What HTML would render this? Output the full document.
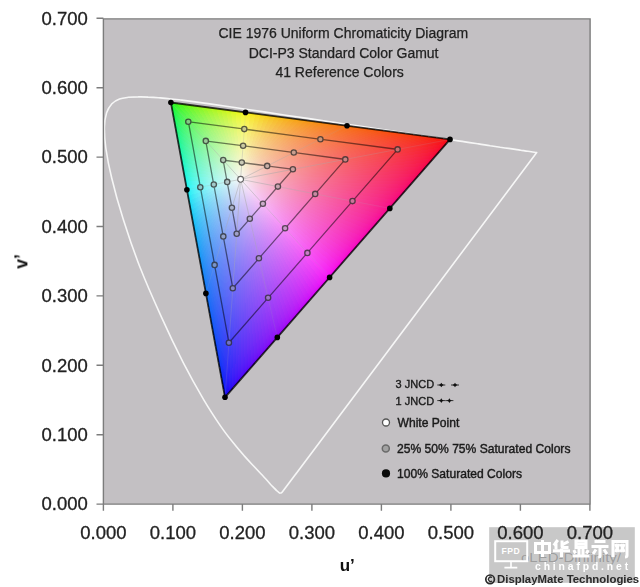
<!DOCTYPE html>
<html><head><meta charset="utf-8"><style>
html,body{margin:0;padding:0;background:#fff;width:640px;height:587px;overflow:hidden}
svg{display:block;filter:blur(.35px);font-family:"Liberation Sans",sans-serif}
</style></head><body>
<svg width="640" height="587" viewBox="0 0 640 587">
<defs><clipPath id="pc"><rect x="103.4" y="18.9" width="486.7" height="485.2"/></clipPath>
<linearGradient id="w0" gradientUnits="userSpaceOnUse" x1="240.6" y1="179.3" x2="249.4" y2="112.9"><stop offset="0" stop-color="#f7f7f7"/><stop offset=".07" stop-color="#e9f7e8"/><stop offset=".16" stop-color="#d7f7d6"/><stop offset=".27" stop-color="#c2f7c0"/><stop offset=".4" stop-color="#aaf7a8"/><stop offset=".54" stop-color="#91f78d"/><stop offset=".67" stop-color="#79f773"/><stop offset=".78" stop-color="#63f75c"/><stop offset=".87" stop-color="#4ff745"/><stop offset=".935" stop-color="#3df730"/><stop offset=".975" stop-color="#31f71e"/><stop offset="1" stop-color="#27f700"/></linearGradient>
<linearGradient id="w1" gradientUnits="userSpaceOnUse" x1="240.6" y1="179.3" x2="249.4" y2="112.9"><stop offset="0" stop-color="#f7f7f7"/><stop offset=".07" stop-color="#eaf7e9"/><stop offset=".16" stop-color="#d9f7d6"/><stop offset=".27" stop-color="#c6f7c1"/><stop offset=".4" stop-color="#b0f7a8"/><stop offset=".54" stop-color="#99f78e"/><stop offset=".67" stop-color="#83f774"/><stop offset=".78" stop-color="#70f75c"/><stop offset=".87" stop-color="#5ff746"/><stop offset=".935" stop-color="#53f731"/><stop offset=".975" stop-color="#4af71e"/><stop offset="1" stop-color="#44f700"/></linearGradient>
<linearGradient id="w2" gradientUnits="userSpaceOnUse" x1="240.6" y1="179.3" x2="249.4" y2="112.9"><stop offset="0" stop-color="#f7f7f7"/><stop offset=".07" stop-color="#ebf7e9"/><stop offset=".16" stop-color="#dbf7d7"/><stop offset=".27" stop-color="#c9f7c2"/><stop offset=".4" stop-color="#b5f7a9"/><stop offset=".54" stop-color="#a0f78f"/><stop offset=".67" stop-color="#8df775"/><stop offset=".78" stop-color="#7cf75d"/><stop offset=".87" stop-color="#6ef746"/><stop offset=".935" stop-color="#64f731"/><stop offset=".975" stop-color="#5df71e"/><stop offset="1" stop-color="#59f700"/></linearGradient>
<linearGradient id="w3" gradientUnits="userSpaceOnUse" x1="240.6" y1="179.3" x2="249.4" y2="112.9"><stop offset="0" stop-color="#f7f7f7"/><stop offset=".07" stop-color="#ecf7e9"/><stop offset=".16" stop-color="#def7d7"/><stop offset=".27" stop-color="#cdf7c2"/><stop offset=".4" stop-color="#bbf7aa"/><stop offset=".54" stop-color="#a8f790"/><stop offset=".67" stop-color="#96f776"/><stop offset=".78" stop-color="#88f75e"/><stop offset=".87" stop-color="#7cf747"/><stop offset=".935" stop-color="#73f731"/><stop offset=".975" stop-color="#6df71e"/><stop offset="1" stop-color="#6af700"/></linearGradient>
<linearGradient id="w4" gradientUnits="userSpaceOnUse" x1="240.6" y1="179.3" x2="249.4" y2="112.9"><stop offset="0" stop-color="#f7f7f7"/><stop offset=".07" stop-color="#edf7e9"/><stop offset=".16" stop-color="#e0f7d8"/><stop offset=".27" stop-color="#d1f7c3"/><stop offset=".4" stop-color="#c0f7ab"/><stop offset=".54" stop-color="#aff791"/><stop offset=".67" stop-color="#a0f777"/><stop offset=".78" stop-color="#93f75f"/><stop offset=".87" stop-color="#88f747"/><stop offset=".935" stop-color="#81f732"/><stop offset=".975" stop-color="#7cf71f"/><stop offset="1" stop-color="#79f700"/></linearGradient>
<linearGradient id="w5" gradientUnits="userSpaceOnUse" x1="240.6" y1="179.3" x2="249.4" y2="112.9"><stop offset="0" stop-color="#f7f7f7"/><stop offset=".07" stop-color="#eef7e9"/><stop offset=".16" stop-color="#e2f7d8"/><stop offset=".27" stop-color="#d5f7c4"/><stop offset=".4" stop-color="#c6f7ac"/><stop offset=".54" stop-color="#b6f791"/><stop offset=".67" stop-color="#a8f778"/><stop offset=".78" stop-color="#9df760"/><stop offset=".87" stop-color="#94f748"/><stop offset=".935" stop-color="#8ef732"/><stop offset=".975" stop-color="#8af71f"/><stop offset="1" stop-color="#87f700"/></linearGradient>
<linearGradient id="w6" gradientUnits="userSpaceOnUse" x1="240.6" y1="179.3" x2="249.4" y2="112.9"><stop offset="0" stop-color="#f7f7f7"/><stop offset=".07" stop-color="#eff7ea"/><stop offset=".16" stop-color="#e4f7d9"/><stop offset=".27" stop-color="#d8f7c5"/><stop offset=".4" stop-color="#cbf7ad"/><stop offset=".54" stop-color="#bdf792"/><stop offset=".67" stop-color="#b1f779"/><stop offset=".78" stop-color="#a7f760"/><stop offset=".87" stop-color="#a0f749"/><stop offset=".935" stop-color="#9af733"/><stop offset=".975" stop-color="#97f71f"/><stop offset="1" stop-color="#95f700"/></linearGradient>
<linearGradient id="w7" gradientUnits="userSpaceOnUse" x1="240.6" y1="179.3" x2="249.4" y2="112.9"><stop offset="0" stop-color="#f7f7f7"/><stop offset=".07" stop-color="#f0f7ea"/><stop offset=".16" stop-color="#e7f7d9"/><stop offset=".27" stop-color="#dcf7c5"/><stop offset=".4" stop-color="#d0f7ae"/><stop offset=".54" stop-color="#c4f793"/><stop offset=".67" stop-color="#baf77a"/><stop offset=".78" stop-color="#b1f761"/><stop offset=".87" stop-color="#abf749"/><stop offset=".935" stop-color="#a6f733"/><stop offset=".975" stop-color="#a3f720"/><stop offset="1" stop-color="#a1f700"/></linearGradient>
<linearGradient id="w8" gradientUnits="userSpaceOnUse" x1="240.6" y1="179.3" x2="249.4" y2="112.9"><stop offset="0" stop-color="#f7f7f7"/><stop offset=".07" stop-color="#f1f7ea"/><stop offset=".16" stop-color="#e9f7da"/><stop offset=".27" stop-color="#e0f7c6"/><stop offset=".4" stop-color="#d6f7ae"/><stop offset=".54" stop-color="#cbf794"/><stop offset=".67" stop-color="#c2f77b"/><stop offset=".78" stop-color="#bbf762"/><stop offset=".87" stop-color="#b5f74a"/><stop offset=".935" stop-color="#b1f734"/><stop offset=".975" stop-color="#aff720"/><stop offset="1" stop-color="#adf700"/></linearGradient>
<linearGradient id="w9" gradientUnits="userSpaceOnUse" x1="240.6" y1="179.3" x2="249.4" y2="112.9"><stop offset="0" stop-color="#f7f7f7"/><stop offset=".07" stop-color="#f2f7eb"/><stop offset=".16" stop-color="#ebf7da"/><stop offset=".27" stop-color="#e3f7c7"/><stop offset=".4" stop-color="#dbf7af"/><stop offset=".54" stop-color="#d2f795"/><stop offset=".67" stop-color="#cbf77c"/><stop offset=".78" stop-color="#c5f763"/><stop offset=".87" stop-color="#c0f74b"/><stop offset=".935" stop-color="#bdf734"/><stop offset=".975" stop-color="#bbf720"/><stop offset="1" stop-color="#b9f700"/></linearGradient>
<linearGradient id="w10" gradientUnits="userSpaceOnUse" x1="240.6" y1="179.3" x2="249.4" y2="112.9"><stop offset="0" stop-color="#f7f7f7"/><stop offset=".07" stop-color="#f3f7eb"/><stop offset=".16" stop-color="#edf7db"/><stop offset=".27" stop-color="#e7f7c7"/><stop offset=".4" stop-color="#e0f7b0"/><stop offset=".54" stop-color="#d9f796"/><stop offset=".67" stop-color="#d3f77d"/><stop offset=".78" stop-color="#cef764"/><stop offset=".87" stop-color="#caf74c"/><stop offset=".935" stop-color="#c8f735"/><stop offset=".975" stop-color="#c6f721"/><stop offset="1" stop-color="#c5f700"/></linearGradient>
<linearGradient id="w11" gradientUnits="userSpaceOnUse" x1="240.6" y1="179.3" x2="249.4" y2="112.9"><stop offset="0" stop-color="#f7f7f7"/><stop offset=".07" stop-color="#f4f7eb"/><stop offset=".16" stop-color="#f0f7db"/><stop offset=".27" stop-color="#ebf7c8"/><stop offset=".4" stop-color="#e5f7b1"/><stop offset=".54" stop-color="#e0f797"/><stop offset=".67" stop-color="#dbf77e"/><stop offset=".78" stop-color="#d7f765"/><stop offset=".87" stop-color="#d4f74c"/><stop offset=".935" stop-color="#d2f735"/><stop offset=".975" stop-color="#d1f721"/><stop offset="1" stop-color="#d0f700"/></linearGradient>
<linearGradient id="w12" gradientUnits="userSpaceOnUse" x1="240.6" y1="179.3" x2="249.4" y2="112.9"><stop offset="0" stop-color="#f7f7f7"/><stop offset=".07" stop-color="#f5f7eb"/><stop offset=".16" stop-color="#f2f7dc"/><stop offset=".27" stop-color="#eef7c9"/><stop offset=".4" stop-color="#ebf7b2"/><stop offset=".54" stop-color="#e7f799"/><stop offset=".67" stop-color="#e3f77f"/><stop offset=".78" stop-color="#e1f766"/><stop offset=".87" stop-color="#dff74d"/><stop offset=".935" stop-color="#ddf736"/><stop offset=".975" stop-color="#dcf721"/><stop offset="1" stop-color="#dcf700"/></linearGradient>
<linearGradient id="w13" gradientUnits="userSpaceOnUse" x1="240.6" y1="179.3" x2="249.4" y2="112.9"><stop offset="0" stop-color="#f7f7f7"/><stop offset=".07" stop-color="#f6f7ec"/><stop offset=".16" stop-color="#f4f7dc"/><stop offset=".27" stop-color="#f2f7ca"/><stop offset=".4" stop-color="#f0f7b3"/><stop offset=".54" stop-color="#eef79a"/><stop offset=".67" stop-color="#ecf780"/><stop offset=".78" stop-color="#eaf767"/><stop offset=".87" stop-color="#e9f74e"/><stop offset=".935" stop-color="#e8f737"/><stop offset=".975" stop-color="#e7f722"/><stop offset="1" stop-color="#e7f700"/></linearGradient>
<linearGradient id="w14" gradientUnits="userSpaceOnUse" x1="240.6" y1="179.3" x2="249.4" y2="112.9"><stop offset="0" stop-color="#f7f7f7"/><stop offset=".07" stop-color="#f7f7ec"/><stop offset=".16" stop-color="#f6f7dd"/><stop offset=".27" stop-color="#f6f7cb"/><stop offset=".4" stop-color="#f5f7b4"/><stop offset=".54" stop-color="#f4f79b"/><stop offset=".67" stop-color="#f4f781"/><stop offset=".78" stop-color="#f3f768"/><stop offset=".87" stop-color="#f3f74f"/><stop offset=".935" stop-color="#f3f737"/><stop offset=".975" stop-color="#f2f722"/><stop offset="1" stop-color="#f2f700"/></linearGradient>
<linearGradient id="w15" gradientUnits="userSpaceOnUse" x1="240.6" y1="179.3" x2="249.4" y2="112.9"><stop offset="0" stop-color="#f7f7f7"/><stop offset=".07" stop-color="#f7f7eb"/><stop offset=".16" stop-color="#f7f6dc"/><stop offset=".27" stop-color="#f7f5ca"/><stop offset=".4" stop-color="#f7f4b3"/><stop offset=".54" stop-color="#f7f49a"/><stop offset=".67" stop-color="#f7f380"/><stop offset=".78" stop-color="#f7f267"/><stop offset=".87" stop-color="#f7f24e"/><stop offset=".935" stop-color="#f7f137"/><stop offset=".975" stop-color="#f7f122"/><stop offset="1" stop-color="#f7f100"/></linearGradient>
<linearGradient id="w16" gradientUnits="userSpaceOnUse" x1="240.6" y1="179.3" x2="249.4" y2="112.9"><stop offset="0" stop-color="#f7f7f7"/><stop offset=".07" stop-color="#f7f6eb"/><stop offset=".16" stop-color="#f7f4db"/><stop offset=".27" stop-color="#f7f2c8"/><stop offset=".4" stop-color="#f7efb0"/><stop offset=".54" stop-color="#f7ed97"/><stop offset=".67" stop-color="#f7eb7d"/><stop offset=".78" stop-color="#f7ea64"/><stop offset=".87" stop-color="#f7e84c"/><stop offset=".935" stop-color="#f7e835"/><stop offset=".975" stop-color="#f7e721"/><stop offset="1" stop-color="#f7e700"/></linearGradient>
<linearGradient id="w17" gradientUnits="userSpaceOnUse" x1="240.6" y1="179.3" x2="249.4" y2="112.9"><stop offset="0" stop-color="#f7f7f7"/><stop offset=".07" stop-color="#f7f5ea"/><stop offset=".16" stop-color="#f7f2d9"/><stop offset=".27" stop-color="#f7eec5"/><stop offset=".4" stop-color="#f7ebae"/><stop offset=".54" stop-color="#f7e794"/><stop offset=".67" stop-color="#f7e47a"/><stop offset=".78" stop-color="#f7e261"/><stop offset=".87" stop-color="#f7e04a"/><stop offset=".935" stop-color="#f7de34"/><stop offset=".975" stop-color="#f7de20"/><stop offset="1" stop-color="#f7dd00"/></linearGradient>
<linearGradient id="w18" gradientUnits="userSpaceOnUse" x1="240.6" y1="179.3" x2="249.4" y2="112.9"><stop offset="0" stop-color="#f7f7f7"/><stop offset=".07" stop-color="#f7f4e9"/><stop offset=".16" stop-color="#f7f0d8"/><stop offset=".27" stop-color="#f7ebc3"/><stop offset=".4" stop-color="#f7e6ab"/><stop offset=".54" stop-color="#f7e191"/><stop offset=".67" stop-color="#f7dd77"/><stop offset=".78" stop-color="#f7da5f"/><stop offset=".87" stop-color="#f7d848"/><stop offset=".935" stop-color="#f7d632"/><stop offset=".975" stop-color="#f7d51f"/><stop offset="1" stop-color="#f7d400"/></linearGradient>
<linearGradient id="w19" gradientUnits="userSpaceOnUse" x1="240.6" y1="179.3" x2="249.4" y2="112.9"><stop offset="0" stop-color="#f7f7f7"/><stop offset=".07" stop-color="#f7f3e9"/><stop offset=".16" stop-color="#f7edd7"/><stop offset=".27" stop-color="#f7e8c2"/><stop offset=".4" stop-color="#f7e1a9"/><stop offset=".54" stop-color="#f7db8f"/><stop offset=".67" stop-color="#f7d775"/><stop offset=".78" stop-color="#f7d35d"/><stop offset=".87" stop-color="#f7d046"/><stop offset=".935" stop-color="#f7ce31"/><stop offset=".975" stop-color="#f7cd1e"/><stop offset="1" stop-color="#f7cc00"/></linearGradient>
<linearGradient id="w20" gradientUnits="userSpaceOnUse" x1="240.6" y1="179.3" x2="249.4" y2="112.9"><stop offset="0" stop-color="#f7f7f7"/><stop offset=".07" stop-color="#f7f2e8"/><stop offset=".16" stop-color="#f7ebd5"/><stop offset=".27" stop-color="#f7e4c0"/><stop offset=".4" stop-color="#f7dda7"/><stop offset=".54" stop-color="#f7d68c"/><stop offset=".67" stop-color="#f7d073"/><stop offset=".78" stop-color="#f7cc5b"/><stop offset=".87" stop-color="#f7c945"/><stop offset=".935" stop-color="#f7c630"/><stop offset=".975" stop-color="#f7c51d"/><stop offset="1" stop-color="#f7c400"/></linearGradient>
<linearGradient id="w21" gradientUnits="userSpaceOnUse" x1="240.6" y1="179.3" x2="249.4" y2="112.9"><stop offset="0" stop-color="#f7f7f7"/><stop offset=".07" stop-color="#f7f1e7"/><stop offset=".16" stop-color="#f7e9d4"/><stop offset=".27" stop-color="#f7e1be"/><stop offset=".4" stop-color="#f7d9a5"/><stop offset=".54" stop-color="#f7d18a"/><stop offset=".67" stop-color="#f7ca71"/><stop offset=".78" stop-color="#f7c659"/><stop offset=".87" stop-color="#f7c243"/><stop offset=".935" stop-color="#f7bf2f"/><stop offset=".975" stop-color="#f7be1d"/><stop offset="1" stop-color="#f7bd00"/></linearGradient>
<linearGradient id="w22" gradientUnits="userSpaceOnUse" x1="240.6" y1="179.3" x2="249.4" y2="112.9"><stop offset="0" stop-color="#f7f7f7"/><stop offset=".07" stop-color="#f7f0e7"/><stop offset=".16" stop-color="#f7e7d3"/><stop offset=".27" stop-color="#f7debc"/><stop offset=".4" stop-color="#f7d5a3"/><stop offset=".54" stop-color="#f7cc88"/><stop offset=".67" stop-color="#f7c56f"/><stop offset=".78" stop-color="#f7bf58"/><stop offset=".87" stop-color="#f7bb42"/><stop offset=".935" stop-color="#f7b92e"/><stop offset=".975" stop-color="#f7b71c"/><stop offset="1" stop-color="#f7b600"/></linearGradient>
<linearGradient id="w23" gradientUnits="userSpaceOnUse" x1="240.6" y1="179.3" x2="249.4" y2="112.9"><stop offset="0" stop-color="#f7f7f7"/><stop offset=".07" stop-color="#f7efe6"/><stop offset=".16" stop-color="#f7e5d2"/><stop offset=".27" stop-color="#f7dbba"/><stop offset=".4" stop-color="#f7d1a1"/><stop offset=".54" stop-color="#f7c786"/><stop offset=".67" stop-color="#f7bf6d"/><stop offset=".78" stop-color="#f7ba56"/><stop offset=".87" stop-color="#f7b540"/><stop offset=".935" stop-color="#f7b22d"/><stop offset=".975" stop-color="#f7b11b"/><stop offset="1" stop-color="#f7af00"/></linearGradient>
<linearGradient id="w24" gradientUnits="userSpaceOnUse" x1="240.6" y1="179.3" x2="249.4" y2="112.9"><stop offset="0" stop-color="#f7f7f7"/><stop offset=".07" stop-color="#f7eee5"/><stop offset=".16" stop-color="#f7e3d0"/><stop offset=".27" stop-color="#f7d8b9"/><stop offset=".4" stop-color="#f7cd9f"/><stop offset=".54" stop-color="#f7c384"/><stop offset=".67" stop-color="#f7ba6b"/><stop offset=".78" stop-color="#f7b454"/><stop offset=".87" stop-color="#f7af3f"/><stop offset=".935" stop-color="#f7ac2c"/><stop offset=".975" stop-color="#f7aa1b"/><stop offset="1" stop-color="#f7a900"/></linearGradient>
<linearGradient id="w25" gradientUnits="userSpaceOnUse" x1="240.6" y1="179.3" x2="249.4" y2="112.9"><stop offset="0" stop-color="#f7f7f7"/><stop offset=".07" stop-color="#f7ede5"/><stop offset=".16" stop-color="#f7e2cf"/><stop offset=".27" stop-color="#f7d5b7"/><stop offset=".4" stop-color="#f7c99d"/><stop offset=".54" stop-color="#f7be82"/><stop offset=".67" stop-color="#f7b569"/><stop offset=".78" stop-color="#f7af53"/><stop offset=".87" stop-color="#f7aa3e"/><stop offset=".935" stop-color="#f7a62b"/><stop offset=".975" stop-color="#f7a41a"/><stop offset="1" stop-color="#f7a300"/></linearGradient>
<linearGradient id="w26" gradientUnits="userSpaceOnUse" x1="240.6" y1="179.3" x2="249.4" y2="112.9"><stop offset="0" stop-color="#f7f7f7"/><stop offset=".07" stop-color="#f7ece4"/><stop offset=".16" stop-color="#f7e0ce"/><stop offset=".27" stop-color="#f7d3b5"/><stop offset=".4" stop-color="#f7c69b"/><stop offset=".54" stop-color="#f7ba80"/><stop offset=".67" stop-color="#f7b167"/><stop offset=".78" stop-color="#f7a951"/><stop offset=".87" stop-color="#f7a43d"/><stop offset=".935" stop-color="#f7a12a"/><stop offset=".975" stop-color="#f79f1a"/><stop offset="1" stop-color="#f79d00"/></linearGradient>
<linearGradient id="w27" gradientUnits="userSpaceOnUse" x1="240.6" y1="179.3" x2="249.4" y2="112.9"><stop offset="0" stop-color="#f7f7f7"/><stop offset=".07" stop-color="#f7ebe3"/><stop offset=".16" stop-color="#f7decd"/><stop offset=".27" stop-color="#f7d0b4"/><stop offset=".4" stop-color="#f7c299"/><stop offset=".54" stop-color="#f7b67e"/><stop offset=".67" stop-color="#f7ac66"/><stop offset=".78" stop-color="#f7a550"/><stop offset=".87" stop-color="#f79f3c"/><stop offset=".935" stop-color="#f79b29"/><stop offset=".975" stop-color="#f79919"/><stop offset="1" stop-color="#f79800"/></linearGradient>
<linearGradient id="w28" gradientUnits="userSpaceOnUse" x1="240.6" y1="179.3" x2="249.4" y2="112.9"><stop offset="0" stop-color="#f7f7f7"/><stop offset=".07" stop-color="#f7eae3"/><stop offset=".16" stop-color="#f7dccc"/><stop offset=".27" stop-color="#f7cdb2"/><stop offset=".4" stop-color="#f7bf97"/><stop offset=".54" stop-color="#f7b27d"/><stop offset=".67" stop-color="#f7a764"/><stop offset=".78" stop-color="#f7a04f"/><stop offset=".87" stop-color="#f79a3b"/><stop offset=".935" stop-color="#f79629"/><stop offset=".975" stop-color="#f79419"/><stop offset="1" stop-color="#f79300"/></linearGradient>
<linearGradient id="w29" gradientUnits="userSpaceOnUse" x1="240.6" y1="179.3" x2="249.4" y2="112.9"><stop offset="0" stop-color="#f7f7f7"/><stop offset=".07" stop-color="#f7e9e2"/><stop offset=".16" stop-color="#f7daca"/><stop offset=".27" stop-color="#f7cbb1"/><stop offset=".4" stop-color="#f7bb96"/><stop offset=".54" stop-color="#f7ae7b"/><stop offset=".67" stop-color="#f7a363"/><stop offset=".78" stop-color="#f79b4e"/><stop offset=".87" stop-color="#f7953a"/><stop offset=".935" stop-color="#f79128"/><stop offset=".975" stop-color="#f78f19"/><stop offset="1" stop-color="#f78d00"/></linearGradient>
<linearGradient id="w30" gradientUnits="userSpaceOnUse" x1="240.6" y1="179.3" x2="249.4" y2="112.9"><stop offset="0" stop-color="#f7f7f6"/><stop offset=".07" stop-color="#f7e8e2"/><stop offset=".16" stop-color="#f7d8c9"/><stop offset=".27" stop-color="#f7c8af"/><stop offset=".4" stop-color="#f7b894"/><stop offset=".54" stop-color="#f7aa7a"/><stop offset=".67" stop-color="#f79f62"/><stop offset=".78" stop-color="#f7974c"/><stop offset=".87" stop-color="#f79039"/><stop offset=".935" stop-color="#f78c27"/><stop offset=".975" stop-color="#f78a18"/><stop offset="1" stop-color="#f78800"/></linearGradient>
<linearGradient id="w31" gradientUnits="userSpaceOnUse" x1="240.6" y1="179.3" x2="249.4" y2="112.9"><stop offset="0" stop-color="#f7f7f6"/><stop offset=".07" stop-color="#f7e8e1"/><stop offset=".16" stop-color="#f7d7c8"/><stop offset=".27" stop-color="#f7c6ae"/><stop offset=".4" stop-color="#f7b593"/><stop offset=".54" stop-color="#f7a678"/><stop offset=".67" stop-color="#f79b60"/><stop offset=".78" stop-color="#f7924b"/><stop offset=".87" stop-color="#f78c38"/><stop offset=".935" stop-color="#f78827"/><stop offset=".975" stop-color="#f78518"/><stop offset="1" stop-color="#f78400"/></linearGradient>
<linearGradient id="w32" gradientUnits="userSpaceOnUse" x1="240.6" y1="179.3" x2="249.4" y2="112.9"><stop offset="0" stop-color="#f7f7f6"/><stop offset=".07" stop-color="#f7e7e0"/><stop offset=".16" stop-color="#f7d5c7"/><stop offset=".27" stop-color="#f7c3ad"/><stop offset=".4" stop-color="#f7b291"/><stop offset=".54" stop-color="#f7a377"/><stop offset=".67" stop-color="#f7975f"/><stop offset=".78" stop-color="#f78e4a"/><stop offset=".87" stop-color="#f78737"/><stop offset=".935" stop-color="#f78326"/><stop offset=".975" stop-color="#f78017"/><stop offset="1" stop-color="#f77f00"/></linearGradient>
<linearGradient id="w33" gradientUnits="userSpaceOnUse" x1="240.6" y1="179.3" x2="249.4" y2="112.9"><stop offset="0" stop-color="#f7f7f6"/><stop offset=".07" stop-color="#f7e6e0"/><stop offset=".16" stop-color="#f7d3c6"/><stop offset=".27" stop-color="#f7c1ab"/><stop offset=".4" stop-color="#f7af90"/><stop offset=".54" stop-color="#f79f75"/><stop offset=".67" stop-color="#f7935e"/><stop offset=".78" stop-color="#f78a49"/><stop offset=".87" stop-color="#f78336"/><stop offset=".935" stop-color="#f77f26"/><stop offset=".975" stop-color="#f77c17"/><stop offset="1" stop-color="#f77a00"/></linearGradient>
<linearGradient id="w34" gradientUnits="userSpaceOnUse" x1="240.6" y1="179.3" x2="249.4" y2="112.9"><stop offset="0" stop-color="#f7f7f6"/><stop offset=".07" stop-color="#f7e5df"/><stop offset=".16" stop-color="#f7d2c5"/><stop offset=".27" stop-color="#f7beaa"/><stop offset=".4" stop-color="#f7ac8e"/><stop offset=".54" stop-color="#f79c74"/><stop offset=".67" stop-color="#f78f5d"/><stop offset=".78" stop-color="#f78648"/><stop offset=".87" stop-color="#f77f36"/><stop offset=".935" stop-color="#f77a25"/><stop offset=".975" stop-color="#f77717"/><stop offset="1" stop-color="#f77600"/></linearGradient>
<linearGradient id="w35" gradientUnits="userSpaceOnUse" x1="240.6" y1="179.3" x2="249.4" y2="112.9"><stop offset="0" stop-color="#f7f7f6"/><stop offset=".07" stop-color="#f7e4df"/><stop offset=".16" stop-color="#f7d0c4"/><stop offset=".27" stop-color="#f7bca9"/><stop offset=".4" stop-color="#f7a98d"/><stop offset=".54" stop-color="#f79873"/><stop offset=".67" stop-color="#f78c5b"/><stop offset=".78" stop-color="#f78247"/><stop offset=".87" stop-color="#f77b35"/><stop offset=".935" stop-color="#f77625"/><stop offset=".975" stop-color="#f77316"/><stop offset="1" stop-color="#f77100"/></linearGradient>
<linearGradient id="w36" gradientUnits="userSpaceOnUse" x1="240.6" y1="179.3" x2="249.4" y2="112.9"><stop offset="0" stop-color="#f7f7f6"/><stop offset=".07" stop-color="#f7e3de"/><stop offset=".16" stop-color="#f7cec3"/><stop offset=".27" stop-color="#f7baa7"/><stop offset=".4" stop-color="#f7a68c"/><stop offset=".54" stop-color="#f79571"/><stop offset=".67" stop-color="#f7885a"/><stop offset=".78" stop-color="#f77e46"/><stop offset=".87" stop-color="#f77734"/><stop offset=".935" stop-color="#f77224"/><stop offset=".975" stop-color="#f76f16"/><stop offset="1" stop-color="#f76d00"/></linearGradient>
<linearGradient id="w37" gradientUnits="userSpaceOnUse" x1="240.6" y1="179.3" x2="249.4" y2="112.9"><stop offset="0" stop-color="#f7f7f6"/><stop offset=".07" stop-color="#f7e2dd"/><stop offset=".16" stop-color="#f7cdc2"/><stop offset=".27" stop-color="#f7b7a6"/><stop offset=".4" stop-color="#f7a38a"/><stop offset=".54" stop-color="#f79270"/><stop offset=".67" stop-color="#f78459"/><stop offset=".78" stop-color="#f77a46"/><stop offset=".87" stop-color="#f77334"/><stop offset=".935" stop-color="#f76e24"/><stop offset=".975" stop-color="#f76b16"/><stop offset="1" stop-color="#f76900"/></linearGradient>
<linearGradient id="w38" gradientUnits="userSpaceOnUse" x1="240.6" y1="179.3" x2="249.4" y2="112.9"><stop offset="0" stop-color="#f7f7f6"/><stop offset=".07" stop-color="#f7e1dd"/><stop offset=".16" stop-color="#f7cbc1"/><stop offset=".27" stop-color="#f7b5a5"/><stop offset=".4" stop-color="#f7a189"/><stop offset=".54" stop-color="#f78f6f"/><stop offset=".67" stop-color="#f78158"/><stop offset=".78" stop-color="#f77745"/><stop offset=".87" stop-color="#f76f33"/><stop offset=".935" stop-color="#f76a23"/><stop offset=".975" stop-color="#f76615"/><stop offset="1" stop-color="#f76500"/></linearGradient>
<linearGradient id="w39" gradientUnits="userSpaceOnUse" x1="240.6" y1="179.3" x2="249.4" y2="112.9"><stop offset="0" stop-color="#f7f7f6"/><stop offset=".07" stop-color="#f7e1dc"/><stop offset=".16" stop-color="#f7c9c0"/><stop offset=".27" stop-color="#f7b3a4"/><stop offset=".4" stop-color="#f79e88"/><stop offset=".54" stop-color="#f78c6e"/><stop offset=".67" stop-color="#f77e57"/><stop offset=".78" stop-color="#f77344"/><stop offset=".87" stop-color="#f76b32"/><stop offset=".935" stop-color="#f76623"/><stop offset=".975" stop-color="#f76215"/><stop offset="1" stop-color="#f76000"/></linearGradient>
<linearGradient id="w40" gradientUnits="userSpaceOnUse" x1="240.6" y1="179.3" x2="249.4" y2="112.9"><stop offset="0" stop-color="#f7f7f6"/><stop offset=".07" stop-color="#f7e0dc"/><stop offset=".16" stop-color="#f7c8bf"/><stop offset=".27" stop-color="#f7b1a3"/><stop offset=".4" stop-color="#f79b87"/><stop offset=".54" stop-color="#f7896d"/><stop offset=".67" stop-color="#f77a56"/><stop offset=".78" stop-color="#f76f43"/><stop offset=".87" stop-color="#f76732"/><stop offset=".935" stop-color="#f76222"/><stop offset=".975" stop-color="#f75e15"/><stop offset="1" stop-color="#f75c00"/></linearGradient>
<linearGradient id="w41" gradientUnits="userSpaceOnUse" x1="240.6" y1="179.3" x2="249.4" y2="112.9"><stop offset="0" stop-color="#f7f6f6"/><stop offset=".07" stop-color="#f7dfdb"/><stop offset=".16" stop-color="#f7c6be"/><stop offset=".27" stop-color="#f7afa1"/><stop offset=".4" stop-color="#f79986"/><stop offset=".54" stop-color="#f7866c"/><stop offset=".67" stop-color="#f77755"/><stop offset=".78" stop-color="#f76c42"/><stop offset=".87" stop-color="#f76331"/><stop offset=".935" stop-color="#f75e22"/><stop offset=".975" stop-color="#f75a15"/><stop offset="1" stop-color="#f75800"/></linearGradient>
<linearGradient id="w42" gradientUnits="userSpaceOnUse" x1="240.6" y1="179.3" x2="249.4" y2="112.9"><stop offset="0" stop-color="#f7f6f6"/><stop offset=".07" stop-color="#f7deda"/><stop offset=".16" stop-color="#f7c5bd"/><stop offset=".27" stop-color="#f7ada0"/><stop offset=".4" stop-color="#f79685"/><stop offset=".54" stop-color="#f7836b"/><stop offset=".67" stop-color="#f77455"/><stop offset=".78" stop-color="#f76842"/><stop offset=".87" stop-color="#f76031"/><stop offset=".935" stop-color="#f75a21"/><stop offset=".975" stop-color="#f75614"/><stop offset="1" stop-color="#f75400"/></linearGradient>
<linearGradient id="w43" gradientUnits="userSpaceOnUse" x1="240.6" y1="179.3" x2="249.4" y2="112.9"><stop offset="0" stop-color="#f7f6f6"/><stop offset=".07" stop-color="#f7ddda"/><stop offset=".16" stop-color="#f7c3bc"/><stop offset=".27" stop-color="#f7ab9f"/><stop offset=".4" stop-color="#f79483"/><stop offset=".54" stop-color="#f7806a"/><stop offset=".67" stop-color="#f77154"/><stop offset=".78" stop-color="#f76541"/><stop offset=".87" stop-color="#f75c30"/><stop offset=".935" stop-color="#f75621"/><stop offset=".975" stop-color="#f75214"/><stop offset="1" stop-color="#f75000"/></linearGradient>
<linearGradient id="w44" gradientUnits="userSpaceOnUse" x1="240.6" y1="179.3" x2="249.4" y2="112.9"><stop offset="0" stop-color="#f7f6f6"/><stop offset=".07" stop-color="#f7dcd9"/><stop offset=".16" stop-color="#f7c2bb"/><stop offset=".27" stop-color="#f7a99e"/><stop offset=".4" stop-color="#f79182"/><stop offset=".54" stop-color="#f77d69"/><stop offset=".67" stop-color="#f76d53"/><stop offset=".78" stop-color="#f76140"/><stop offset=".87" stop-color="#f75830"/><stop offset=".935" stop-color="#f75221"/><stop offset=".975" stop-color="#f74e14"/><stop offset="1" stop-color="#f74c00"/></linearGradient>
<linearGradient id="w45" gradientUnits="userSpaceOnUse" x1="240.6" y1="179.3" x2="249.4" y2="112.9"><stop offset="0" stop-color="#f7f6f6"/><stop offset=".07" stop-color="#f7dcd9"/><stop offset=".16" stop-color="#f7c0ba"/><stop offset=".27" stop-color="#f7a79d"/><stop offset=".4" stop-color="#f78f81"/><stop offset=".54" stop-color="#f77b68"/><stop offset=".67" stop-color="#f76a52"/><stop offset=".78" stop-color="#f75e40"/><stop offset=".87" stop-color="#f7552f"/><stop offset=".935" stop-color="#f74e20"/><stop offset=".975" stop-color="#f74a14"/><stop offset="1" stop-color="#f74800"/></linearGradient>
<linearGradient id="w46" gradientUnits="userSpaceOnUse" x1="240.6" y1="179.3" x2="249.4" y2="112.9"><stop offset="0" stop-color="#f7f6f6"/><stop offset=".07" stop-color="#f7dbd8"/><stop offset=".16" stop-color="#f7bfba"/><stop offset=".27" stop-color="#f7a59c"/><stop offset=".4" stop-color="#f78d80"/><stop offset=".54" stop-color="#f77867"/><stop offset=".67" stop-color="#f76751"/><stop offset=".78" stop-color="#f75b3f"/><stop offset=".87" stop-color="#f7512f"/><stop offset=".935" stop-color="#f74a20"/><stop offset=".975" stop-color="#f74614"/><stop offset="1" stop-color="#f74300"/></linearGradient>
<linearGradient id="w47" gradientUnits="userSpaceOnUse" x1="240.6" y1="179.3" x2="249.4" y2="112.9"><stop offset="0" stop-color="#f7f6f6"/><stop offset=".07" stop-color="#f7dad8"/><stop offset=".16" stop-color="#f7bdb9"/><stop offset=".27" stop-color="#f7a39b"/><stop offset=".4" stop-color="#f78a7f"/><stop offset=".54" stop-color="#f77566"/><stop offset=".67" stop-color="#f76450"/><stop offset=".78" stop-color="#f7573e"/><stop offset=".87" stop-color="#f74d2e"/><stop offset=".935" stop-color="#f74620"/><stop offset=".975" stop-color="#f74213"/><stop offset="1" stop-color="#f73f00"/></linearGradient>
<linearGradient id="w48" gradientUnits="userSpaceOnUse" x1="240.6" y1="179.3" x2="249.4" y2="112.9"><stop offset="0" stop-color="#f7f6f6"/><stop offset=".07" stop-color="#f7d9d7"/><stop offset=".16" stop-color="#f7bcb8"/><stop offset=".27" stop-color="#f7a19a"/><stop offset=".4" stop-color="#f7887e"/><stop offset=".54" stop-color="#f77265"/><stop offset=".67" stop-color="#f76150"/><stop offset=".78" stop-color="#f7543e"/><stop offset=".87" stop-color="#f74a2e"/><stop offset=".935" stop-color="#f7421f"/><stop offset=".975" stop-color="#f73e13"/><stop offset="1" stop-color="#f73b00"/></linearGradient>
<linearGradient id="w49" gradientUnits="userSpaceOnUse" x1="240.6" y1="179.3" x2="249.4" y2="112.9"><stop offset="0" stop-color="#f7f6f6"/><stop offset=".07" stop-color="#f7d8d7"/><stop offset=".16" stop-color="#f7bbb7"/><stop offset=".27" stop-color="#f79f99"/><stop offset=".4" stop-color="#f7867d"/><stop offset=".54" stop-color="#f77064"/><stop offset=".67" stop-color="#f75e4f"/><stop offset=".78" stop-color="#f7513d"/><stop offset=".87" stop-color="#f7462d"/><stop offset=".935" stop-color="#f73e1f"/><stop offset=".975" stop-color="#f73913"/><stop offset="1" stop-color="#f73600"/></linearGradient>
<linearGradient id="w50" gradientUnits="userSpaceOnUse" x1="240.6" y1="179.3" x2="249.4" y2="112.9"><stop offset="0" stop-color="#f7f6f6"/><stop offset=".07" stop-color="#f7d8d6"/><stop offset=".16" stop-color="#f7b9b6"/><stop offset=".27" stop-color="#f79d98"/><stop offset=".4" stop-color="#f7847c"/><stop offset=".54" stop-color="#f76d63"/><stop offset=".67" stop-color="#f75b4e"/><stop offset=".78" stop-color="#f74d3d"/><stop offset=".87" stop-color="#f7422d"/><stop offset=".935" stop-color="#f73a1f"/><stop offset=".975" stop-color="#f73513"/><stop offset="1" stop-color="#f73100"/></linearGradient>
<linearGradient id="w51" gradientUnits="userSpaceOnUse" x1="240.6" y1="179.3" x2="249.4" y2="112.9"><stop offset="0" stop-color="#f7f6f6"/><stop offset=".07" stop-color="#f7d7d6"/><stop offset=".16" stop-color="#f7b8b5"/><stop offset=".27" stop-color="#f79b97"/><stop offset=".4" stop-color="#f7817c"/><stop offset=".54" stop-color="#f76b63"/><stop offset=".67" stop-color="#f7584e"/><stop offset=".78" stop-color="#f74a3c"/><stop offset=".87" stop-color="#f73e2c"/><stop offset=".935" stop-color="#f7351e"/><stop offset=".975" stop-color="#f73013"/><stop offset="1" stop-color="#f72c00"/></linearGradient>
<linearGradient id="w52" gradientUnits="userSpaceOnUse" x1="240.6" y1="179.3" x2="249.4" y2="112.9"><stop offset="0" stop-color="#f7f6f6"/><stop offset=".07" stop-color="#f7d6d5"/><stop offset=".16" stop-color="#f7b7b5"/><stop offset=".27" stop-color="#f79a96"/><stop offset=".4" stop-color="#f77f7b"/><stop offset=".54" stop-color="#f76862"/><stop offset=".67" stop-color="#f7554d"/><stop offset=".78" stop-color="#f7463b"/><stop offset=".87" stop-color="#f73a2c"/><stop offset=".935" stop-color="#f7311e"/><stop offset=".975" stop-color="#f72b12"/><stop offset="1" stop-color="#f72700"/></linearGradient>
<linearGradient id="w53" gradientUnits="userSpaceOnUse" x1="240.6" y1="179.3" x2="249.4" y2="112.9"><stop offset="0" stop-color="#f7f6f6"/><stop offset=".07" stop-color="#f7d5d5"/><stop offset=".16" stop-color="#f7b5b4"/><stop offset=".27" stop-color="#f79896"/><stop offset=".4" stop-color="#f77d7a"/><stop offset=".54" stop-color="#f76561"/><stop offset=".67" stop-color="#f7524c"/><stop offset=".78" stop-color="#f7433b"/><stop offset=".87" stop-color="#f7362b"/><stop offset=".935" stop-color="#f72c1e"/><stop offset=".975" stop-color="#f72512"/><stop offset="1" stop-color="#f72000"/></linearGradient>
<linearGradient id="w54" gradientUnits="userSpaceOnUse" x1="240.6" y1="179.3" x2="249.4" y2="112.9"><stop offset="0" stop-color="#f7f6f6"/><stop offset=".07" stop-color="#f7d5d4"/><stop offset=".16" stop-color="#f7b4b3"/><stop offset=".27" stop-color="#f79695"/><stop offset=".4" stop-color="#f77b79"/><stop offset=".54" stop-color="#f76360"/><stop offset=".67" stop-color="#f74f4c"/><stop offset=".78" stop-color="#f73f3a"/><stop offset=".87" stop-color="#f7322b"/><stop offset=".935" stop-color="#f7271e"/><stop offset=".975" stop-color="#f71f12"/><stop offset="1" stop-color="#f71900"/></linearGradient>
<linearGradient id="w55" gradientUnits="userSpaceOnUse" x1="240.6" y1="179.3" x2="249.4" y2="112.9"><stop offset="0" stop-color="#f7f6f6"/><stop offset=".07" stop-color="#f7d4d4"/><stop offset=".16" stop-color="#f7b3b2"/><stop offset=".27" stop-color="#f79494"/><stop offset=".4" stop-color="#f77978"/><stop offset=".54" stop-color="#f7605f"/><stop offset=".67" stop-color="#f74c4b"/><stop offset=".78" stop-color="#f73c3a"/><stop offset=".87" stop-color="#f72d2b"/><stop offset=".935" stop-color="#f7211d"/><stop offset=".975" stop-color="#f71712"/><stop offset="1" stop-color="#f70e00"/></linearGradient>
<linearGradient id="w56" gradientUnits="userSpaceOnUse" x1="240.6" y1="179.3" x2="339.7" y2="265.8"><stop offset="0" stop-color="#f7f6f6"/><stop offset=".07" stop-color="#f7d4d4"/><stop offset=".16" stop-color="#f7b2b3"/><stop offset=".27" stop-color="#f79495"/><stop offset=".4" stop-color="#f77879"/><stop offset=".54" stop-color="#f75f61"/><stop offset=".67" stop-color="#f74b4d"/><stop offset=".78" stop-color="#f73a3d"/><stop offset=".87" stop-color="#f72b2f"/><stop offset=".935" stop-color="#f71d23"/><stop offset=".975" stop-color="#f7121b"/><stop offset="1" stop-color="#f70014"/></linearGradient>
<linearGradient id="w57" gradientUnits="userSpaceOnUse" x1="240.6" y1="179.3" x2="339.7" y2="265.8"><stop offset="0" stop-color="#f7f6f6"/><stop offset=".07" stop-color="#f7d4d5"/><stop offset=".16" stop-color="#f7b3b4"/><stop offset=".27" stop-color="#f79597"/><stop offset=".4" stop-color="#f7797c"/><stop offset=".54" stop-color="#f76065"/><stop offset=".67" stop-color="#f74c52"/><stop offset=".78" stop-color="#f73a43"/><stop offset=".87" stop-color="#f72b37"/><stop offset=".935" stop-color="#f71e2d"/><stop offset=".975" stop-color="#f71227"/><stop offset="1" stop-color="#f70023"/></linearGradient>
<linearGradient id="w58" gradientUnits="userSpaceOnUse" x1="240.6" y1="179.3" x2="339.7" y2="265.8"><stop offset="0" stop-color="#f7f6f6"/><stop offset=".07" stop-color="#f7d4d6"/><stop offset=".16" stop-color="#f7b3b6"/><stop offset=".27" stop-color="#f79599"/><stop offset=".4" stop-color="#f77980"/><stop offset=".54" stop-color="#f76169"/><stop offset=".67" stop-color="#f74c57"/><stop offset=".78" stop-color="#f73b49"/><stop offset=".87" stop-color="#f72b3e"/><stop offset=".935" stop-color="#f71e36"/><stop offset=".975" stop-color="#f71230"/><stop offset="1" stop-color="#f7002d"/></linearGradient>
<linearGradient id="w59" gradientUnits="userSpaceOnUse" x1="240.6" y1="179.3" x2="339.7" y2="265.8"><stop offset="0" stop-color="#f7f6f6"/><stop offset=".07" stop-color="#f7d5d6"/><stop offset=".16" stop-color="#f7b4b8"/><stop offset=".27" stop-color="#f7969c"/><stop offset=".4" stop-color="#f77a83"/><stop offset=".54" stop-color="#f7616d"/><stop offset=".67" stop-color="#f74d5c"/><stop offset=".78" stop-color="#f73b4f"/><stop offset=".87" stop-color="#f72c45"/><stop offset=".935" stop-color="#f71e3d"/><stop offset=".975" stop-color="#f71239"/><stop offset="1" stop-color="#f70036"/></linearGradient>
<linearGradient id="w60" gradientUnits="userSpaceOnUse" x1="240.6" y1="179.3" x2="339.7" y2="265.8"><stop offset="0" stop-color="#f7f6f6"/><stop offset=".07" stop-color="#f7d5d7"/><stop offset=".16" stop-color="#f7b5b9"/><stop offset=".27" stop-color="#f7979e"/><stop offset=".4" stop-color="#f77b86"/><stop offset=".54" stop-color="#f76271"/><stop offset=".67" stop-color="#f74d61"/><stop offset=".78" stop-color="#f73c54"/><stop offset=".87" stop-color="#f72c4b"/><stop offset=".935" stop-color="#f71e44"/><stop offset=".975" stop-color="#f71240"/><stop offset="1" stop-color="#f7003d"/></linearGradient>
<linearGradient id="w61" gradientUnits="userSpaceOnUse" x1="240.6" y1="179.3" x2="339.7" y2="265.8"><stop offset="0" stop-color="#f7f6f6"/><stop offset=".07" stop-color="#f7d6d8"/><stop offset=".16" stop-color="#f7b5bb"/><stop offset=".27" stop-color="#f797a1"/><stop offset=".4" stop-color="#f77c89"/><stop offset=".54" stop-color="#f76375"/><stop offset=".67" stop-color="#f74e65"/><stop offset=".78" stop-color="#f73c59"/><stop offset=".87" stop-color="#f72c51"/><stop offset=".935" stop-color="#f71e4a"/><stop offset=".975" stop-color="#f71347"/><stop offset="1" stop-color="#f70044"/></linearGradient>
<linearGradient id="w62" gradientUnits="userSpaceOnUse" x1="240.6" y1="179.3" x2="339.7" y2="265.8"><stop offset="0" stop-color="#f7f6f6"/><stop offset=".07" stop-color="#f7d6d9"/><stop offset=".16" stop-color="#f7b6bd"/><stop offset=".27" stop-color="#f798a3"/><stop offset=".4" stop-color="#f77c8c"/><stop offset=".54" stop-color="#f76379"/><stop offset=".67" stop-color="#f74e6a"/><stop offset=".78" stop-color="#f73d5f"/><stop offset=".87" stop-color="#f72d56"/><stop offset=".935" stop-color="#f71f50"/><stop offset=".975" stop-color="#f7134d"/><stop offset="1" stop-color="#f7004b"/></linearGradient>
<linearGradient id="w63" gradientUnits="userSpaceOnUse" x1="240.6" y1="179.3" x2="339.7" y2="265.8"><stop offset="0" stop-color="#f7f6f6"/><stop offset=".07" stop-color="#f7d7da"/><stop offset=".16" stop-color="#f7b7bf"/><stop offset=".27" stop-color="#f799a6"/><stop offset=".4" stop-color="#f77d8f"/><stop offset=".54" stop-color="#f7647c"/><stop offset=".67" stop-color="#f74f6e"/><stop offset=".78" stop-color="#f73d63"/><stop offset=".87" stop-color="#f72d5c"/><stop offset=".935" stop-color="#f71f56"/><stop offset=".975" stop-color="#f71353"/><stop offset="1" stop-color="#f70051"/></linearGradient>
<linearGradient id="w64" gradientUnits="userSpaceOnUse" x1="240.6" y1="179.3" x2="339.7" y2="265.8"><stop offset="0" stop-color="#f7f6f6"/><stop offset=".07" stop-color="#f7d7db"/><stop offset=".16" stop-color="#f7b7c0"/><stop offset=".27" stop-color="#f79aa8"/><stop offset=".4" stop-color="#f77e92"/><stop offset=".54" stop-color="#f76580"/><stop offset=".67" stop-color="#f74f72"/><stop offset=".78" stop-color="#f73d68"/><stop offset=".87" stop-color="#f72d61"/><stop offset=".935" stop-color="#f71f5c"/><stop offset=".975" stop-color="#f71359"/><stop offset="1" stop-color="#f70057"/></linearGradient>
<linearGradient id="w65" gradientUnits="userSpaceOnUse" x1="240.6" y1="179.3" x2="339.7" y2="265.8"><stop offset="0" stop-color="#f7f6f6"/><stop offset=".07" stop-color="#f7d7dc"/><stop offset=".16" stop-color="#f7b8c2"/><stop offset=".27" stop-color="#f79bab"/><stop offset=".4" stop-color="#f77f96"/><stop offset=".54" stop-color="#f76584"/><stop offset=".67" stop-color="#f75077"/><stop offset=".78" stop-color="#f73e6d"/><stop offset=".87" stop-color="#f72e66"/><stop offset=".935" stop-color="#f72061"/><stop offset=".975" stop-color="#f7135f"/><stop offset="1" stop-color="#f7005d"/></linearGradient>
<linearGradient id="w66" gradientUnits="userSpaceOnUse" x1="240.6" y1="179.3" x2="339.7" y2="265.8"><stop offset="0" stop-color="#f7f6f6"/><stop offset=".07" stop-color="#f7d8dd"/><stop offset=".16" stop-color="#f7b9c4"/><stop offset=".27" stop-color="#f79bad"/><stop offset=".4" stop-color="#f78099"/><stop offset=".54" stop-color="#f76688"/><stop offset=".67" stop-color="#f7517b"/><stop offset=".78" stop-color="#f73e72"/><stop offset=".87" stop-color="#f72e6b"/><stop offset=".935" stop-color="#f72067"/><stop offset=".975" stop-color="#f71364"/><stop offset="1" stop-color="#f70062"/></linearGradient>
<linearGradient id="w67" gradientUnits="userSpaceOnUse" x1="240.6" y1="179.3" x2="339.7" y2="265.8"><stop offset="0" stop-color="#f7f6f6"/><stop offset=".07" stop-color="#f7d8de"/><stop offset=".16" stop-color="#f7bac6"/><stop offset=".27" stop-color="#f79cb0"/><stop offset=".4" stop-color="#f7809c"/><stop offset=".54" stop-color="#f7678c"/><stop offset=".67" stop-color="#f7517f"/><stop offset=".78" stop-color="#f73f77"/><stop offset=".87" stop-color="#f72f70"/><stop offset=".935" stop-color="#f7206c"/><stop offset=".975" stop-color="#f71469"/><stop offset="1" stop-color="#f70068"/></linearGradient>
<linearGradient id="w68" gradientUnits="userSpaceOnUse" x1="240.6" y1="179.3" x2="339.7" y2="265.8"><stop offset="0" stop-color="#f7f6f6"/><stop offset=".07" stop-color="#f7d9df"/><stop offset=".16" stop-color="#f7bac8"/><stop offset=".27" stop-color="#f79db2"/><stop offset=".4" stop-color="#f7819f"/><stop offset=".54" stop-color="#f7688f"/><stop offset=".67" stop-color="#f75284"/><stop offset=".78" stop-color="#f73f7b"/><stop offset=".87" stop-color="#f72f75"/><stop offset=".935" stop-color="#f72071"/><stop offset=".975" stop-color="#f7146f"/><stop offset="1" stop-color="#f7006d"/></linearGradient>
<linearGradient id="w69" gradientUnits="userSpaceOnUse" x1="240.6" y1="179.3" x2="339.7" y2="265.8"><stop offset="0" stop-color="#f7f6f6"/><stop offset=".07" stop-color="#f7d9e0"/><stop offset=".16" stop-color="#f7bbc9"/><stop offset=".27" stop-color="#f79eb5"/><stop offset=".4" stop-color="#f782a2"/><stop offset=".54" stop-color="#f76893"/><stop offset=".67" stop-color="#f75388"/><stop offset=".78" stop-color="#f74080"/><stop offset=".87" stop-color="#f72f7a"/><stop offset=".935" stop-color="#f72176"/><stop offset=".975" stop-color="#f71474"/><stop offset="1" stop-color="#f70073"/></linearGradient>
<linearGradient id="w70" gradientUnits="userSpaceOnUse" x1="240.6" y1="179.3" x2="339.7" y2="265.8"><stop offset="0" stop-color="#f7f6f6"/><stop offset=".07" stop-color="#f7dae1"/><stop offset=".16" stop-color="#f7bccb"/><stop offset=".27" stop-color="#f79fb7"/><stop offset=".4" stop-color="#f783a6"/><stop offset=".54" stop-color="#f76997"/><stop offset=".67" stop-color="#f7538c"/><stop offset=".78" stop-color="#f74185"/><stop offset=".87" stop-color="#f7307f"/><stop offset=".935" stop-color="#f7217b"/><stop offset=".975" stop-color="#f71479"/><stop offset="1" stop-color="#f70078"/></linearGradient>
<linearGradient id="w71" gradientUnits="userSpaceOnUse" x1="240.6" y1="179.3" x2="339.7" y2="265.8"><stop offset="0" stop-color="#f7f6f6"/><stop offset=".07" stop-color="#f7dae2"/><stop offset=".16" stop-color="#f7bdcd"/><stop offset=".27" stop-color="#f7a0ba"/><stop offset=".4" stop-color="#f784a9"/><stop offset=".54" stop-color="#f76a9b"/><stop offset=".67" stop-color="#f75491"/><stop offset=".78" stop-color="#f74189"/><stop offset=".87" stop-color="#f73084"/><stop offset=".935" stop-color="#f72180"/><stop offset=".975" stop-color="#f7147e"/><stop offset="1" stop-color="#f7007d"/></linearGradient>
<linearGradient id="w72" gradientUnits="userSpaceOnUse" x1="240.6" y1="179.3" x2="339.7" y2="265.8"><stop offset="0" stop-color="#f7f6f6"/><stop offset=".07" stop-color="#f7dbe3"/><stop offset=".16" stop-color="#f7bdcf"/><stop offset=".27" stop-color="#f7a1bd"/><stop offset=".4" stop-color="#f785ac"/><stop offset=".54" stop-color="#f76b9f"/><stop offset=".67" stop-color="#f75595"/><stop offset=".78" stop-color="#f7428e"/><stop offset=".87" stop-color="#f73189"/><stop offset=".935" stop-color="#f72285"/><stop offset=".975" stop-color="#f71484"/><stop offset="1" stop-color="#f70082"/></linearGradient>
<linearGradient id="w73" gradientUnits="userSpaceOnUse" x1="240.6" y1="179.3" x2="339.7" y2="265.8"><stop offset="0" stop-color="#f7f6f7"/><stop offset=".07" stop-color="#f7dbe4"/><stop offset=".16" stop-color="#f7bed1"/><stop offset=".27" stop-color="#f7a1bf"/><stop offset=".4" stop-color="#f786b0"/><stop offset=".54" stop-color="#f76ca3"/><stop offset=".67" stop-color="#f75599"/><stop offset=".78" stop-color="#f74293"/><stop offset=".87" stop-color="#f7318e"/><stop offset=".935" stop-color="#f7228b"/><stop offset=".975" stop-color="#f71589"/><stop offset="1" stop-color="#f70088"/></linearGradient>
<linearGradient id="w74" gradientUnits="userSpaceOnUse" x1="240.6" y1="179.3" x2="339.7" y2="265.8"><stop offset="0" stop-color="#f7f6f7"/><stop offset=".07" stop-color="#f7dce5"/><stop offset=".16" stop-color="#f7bfd3"/><stop offset=".27" stop-color="#f7a2c2"/><stop offset=".4" stop-color="#f787b3"/><stop offset=".54" stop-color="#f76da7"/><stop offset=".67" stop-color="#f7569e"/><stop offset=".78" stop-color="#f74397"/><stop offset=".87" stop-color="#f73293"/><stop offset=".935" stop-color="#f72290"/><stop offset=".975" stop-color="#f7158e"/><stop offset="1" stop-color="#f7008d"/></linearGradient>
<linearGradient id="w75" gradientUnits="userSpaceOnUse" x1="240.6" y1="179.3" x2="339.7" y2="265.8"><stop offset="0" stop-color="#f7f6f7"/><stop offset=".07" stop-color="#f7dce6"/><stop offset=".16" stop-color="#f7c0d5"/><stop offset=".27" stop-color="#f7a3c5"/><stop offset=".4" stop-color="#f788b6"/><stop offset=".54" stop-color="#f76dab"/><stop offset=".67" stop-color="#f757a2"/><stop offset=".78" stop-color="#f7449c"/><stop offset=".87" stop-color="#f73298"/><stop offset=".935" stop-color="#f72395"/><stop offset=".975" stop-color="#f71593"/><stop offset="1" stop-color="#f70092"/></linearGradient>
<linearGradient id="w76" gradientUnits="userSpaceOnUse" x1="240.6" y1="179.3" x2="339.7" y2="265.8"><stop offset="0" stop-color="#f7f6f7"/><stop offset=".07" stop-color="#f7dde7"/><stop offset=".16" stop-color="#f7c0d7"/><stop offset=".27" stop-color="#f7a4c7"/><stop offset=".4" stop-color="#f789ba"/><stop offset=".54" stop-color="#f76eaf"/><stop offset=".67" stop-color="#f758a6"/><stop offset=".78" stop-color="#f744a1"/><stop offset=".87" stop-color="#f7339d"/><stop offset=".935" stop-color="#f7239a"/><stop offset=".975" stop-color="#f71598"/><stop offset="1" stop-color="#f70097"/></linearGradient>
<linearGradient id="w77" gradientUnits="userSpaceOnUse" x1="240.6" y1="179.3" x2="339.7" y2="265.8"><stop offset="0" stop-color="#f7f6f7"/><stop offset=".07" stop-color="#f7dde8"/><stop offset=".16" stop-color="#f7c1d8"/><stop offset=".27" stop-color="#f7a5ca"/><stop offset=".4" stop-color="#f78abd"/><stop offset=".54" stop-color="#f76fb3"/><stop offset=".67" stop-color="#f759ab"/><stop offset=".78" stop-color="#f745a5"/><stop offset=".87" stop-color="#f733a2"/><stop offset=".935" stop-color="#f7239f"/><stop offset=".975" stop-color="#f7169e"/><stop offset="1" stop-color="#f7009d"/></linearGradient>
<linearGradient id="w78" gradientUnits="userSpaceOnUse" x1="240.6" y1="179.3" x2="339.7" y2="265.8"><stop offset="0" stop-color="#f7f6f7"/><stop offset=".07" stop-color="#f7dde9"/><stop offset=".16" stop-color="#f7c2da"/><stop offset=".27" stop-color="#f7a6cd"/><stop offset=".4" stop-color="#f78bc1"/><stop offset=".54" stop-color="#f770b7"/><stop offset=".67" stop-color="#f759b0"/><stop offset=".78" stop-color="#f746aa"/><stop offset=".87" stop-color="#f734a7"/><stop offset=".935" stop-color="#f724a4"/><stop offset=".975" stop-color="#f716a3"/><stop offset="1" stop-color="#f700a2"/></linearGradient>
<linearGradient id="w79" gradientUnits="userSpaceOnUse" x1="240.6" y1="179.3" x2="339.7" y2="265.8"><stop offset="0" stop-color="#f7f6f7"/><stop offset=".07" stop-color="#f7deea"/><stop offset=".16" stop-color="#f7c3dc"/><stop offset=".27" stop-color="#f7a7d0"/><stop offset=".4" stop-color="#f78cc4"/><stop offset=".54" stop-color="#f771bb"/><stop offset=".67" stop-color="#f75ab4"/><stop offset=".78" stop-color="#f746af"/><stop offset=".87" stop-color="#f734ac"/><stop offset=".935" stop-color="#f724aa"/><stop offset=".975" stop-color="#f716a8"/><stop offset="1" stop-color="#f700a7"/></linearGradient>
<linearGradient id="w80" gradientUnits="userSpaceOnUse" x1="240.6" y1="179.3" x2="339.7" y2="265.8"><stop offset="0" stop-color="#f7f7f7"/><stop offset=".07" stop-color="#f7deeb"/><stop offset=".16" stop-color="#f7c4de"/><stop offset=".27" stop-color="#f7a8d3"/><stop offset=".4" stop-color="#f78dc8"/><stop offset=".54" stop-color="#f772bf"/><stop offset=".67" stop-color="#f75bb9"/><stop offset=".78" stop-color="#f747b4"/><stop offset=".87" stop-color="#f735b1"/><stop offset=".935" stop-color="#f724af"/><stop offset=".975" stop-color="#f716ae"/><stop offset="1" stop-color="#f700ad"/></linearGradient>
<linearGradient id="w81" gradientUnits="userSpaceOnUse" x1="240.6" y1="179.3" x2="339.7" y2="265.8"><stop offset="0" stop-color="#f7f7f7"/><stop offset=".07" stop-color="#f7dfec"/><stop offset=".16" stop-color="#f7c5e0"/><stop offset=".27" stop-color="#f7a9d5"/><stop offset=".4" stop-color="#f78ecc"/><stop offset=".54" stop-color="#f773c3"/><stop offset=".67" stop-color="#f75cbd"/><stop offset=".78" stop-color="#f748b9"/><stop offset=".87" stop-color="#f735b6"/><stop offset=".935" stop-color="#f725b4"/><stop offset=".975" stop-color="#f717b3"/><stop offset="1" stop-color="#f700b2"/></linearGradient>
<linearGradient id="w82" gradientUnits="userSpaceOnUse" x1="240.6" y1="179.3" x2="339.7" y2="265.8"><stop offset="0" stop-color="#f7f7f7"/><stop offset=".07" stop-color="#f7dfed"/><stop offset=".16" stop-color="#f7c5e2"/><stop offset=".27" stop-color="#f7aad8"/><stop offset=".4" stop-color="#f78fcf"/><stop offset=".54" stop-color="#f774c8"/><stop offset=".67" stop-color="#f75dc2"/><stop offset=".78" stop-color="#f749be"/><stop offset=".87" stop-color="#f736bc"/><stop offset=".935" stop-color="#f725ba"/><stop offset=".975" stop-color="#f717b9"/><stop offset="1" stop-color="#f700b8"/></linearGradient>
<linearGradient id="w83" gradientUnits="userSpaceOnUse" x1="240.6" y1="179.3" x2="339.7" y2="265.8"><stop offset="0" stop-color="#f7f7f7"/><stop offset=".07" stop-color="#f7e0ee"/><stop offset=".16" stop-color="#f7c6e4"/><stop offset=".27" stop-color="#f7acdb"/><stop offset=".4" stop-color="#f790d3"/><stop offset=".54" stop-color="#f776cc"/><stop offset=".67" stop-color="#f75ec7"/><stop offset=".78" stop-color="#f749c4"/><stop offset=".87" stop-color="#f737c1"/><stop offset=".935" stop-color="#f726bf"/><stop offset=".975" stop-color="#f717be"/><stop offset="1" stop-color="#f700be"/></linearGradient>
<linearGradient id="w84" gradientUnits="userSpaceOnUse" x1="240.6" y1="179.3" x2="339.7" y2="265.8"><stop offset="0" stop-color="#f7f7f7"/><stop offset=".07" stop-color="#f7e0ef"/><stop offset=".16" stop-color="#f7c7e6"/><stop offset=".27" stop-color="#f7adde"/><stop offset=".4" stop-color="#f791d7"/><stop offset=".54" stop-color="#f777d1"/><stop offset=".67" stop-color="#f75fcc"/><stop offset=".78" stop-color="#f74ac9"/><stop offset=".87" stop-color="#f737c7"/><stop offset=".935" stop-color="#f726c5"/><stop offset=".975" stop-color="#f717c4"/><stop offset="1" stop-color="#f700c4"/></linearGradient>
<linearGradient id="w85" gradientUnits="userSpaceOnUse" x1="240.6" y1="179.3" x2="339.7" y2="265.8"><stop offset="0" stop-color="#f7f7f7"/><stop offset=".07" stop-color="#f7e1f0"/><stop offset=".16" stop-color="#f7c8e8"/><stop offset=".27" stop-color="#f7aee1"/><stop offset=".4" stop-color="#f793db"/><stop offset=".54" stop-color="#f778d5"/><stop offset=".67" stop-color="#f760d1"/><stop offset=".78" stop-color="#f74bce"/><stop offset=".87" stop-color="#f738cc"/><stop offset=".935" stop-color="#f727cb"/><stop offset=".975" stop-color="#f718ca"/><stop offset="1" stop-color="#f700ca"/></linearGradient>
<linearGradient id="w86" gradientUnits="userSpaceOnUse" x1="240.6" y1="179.3" x2="339.7" y2="265.8"><stop offset="0" stop-color="#f7f7f7"/><stop offset=".07" stop-color="#f7e1f1"/><stop offset=".16" stop-color="#f7c9eb"/><stop offset=".27" stop-color="#f7afe4"/><stop offset=".4" stop-color="#f794df"/><stop offset=".54" stop-color="#f779da"/><stop offset=".67" stop-color="#f761d6"/><stop offset=".78" stop-color="#f74cd4"/><stop offset=".87" stop-color="#f739d2"/><stop offset=".935" stop-color="#f727d1"/><stop offset=".975" stop-color="#f718d0"/><stop offset="1" stop-color="#f700d0"/></linearGradient>
<linearGradient id="w87" gradientUnits="userSpaceOnUse" x1="240.6" y1="179.3" x2="339.7" y2="265.8"><stop offset="0" stop-color="#f7f7f7"/><stop offset=".07" stop-color="#f7e2f2"/><stop offset=".16" stop-color="#f7caed"/><stop offset=".27" stop-color="#f7b0e7"/><stop offset=".4" stop-color="#f795e3"/><stop offset=".54" stop-color="#f77adf"/><stop offset=".67" stop-color="#f762dc"/><stop offset=".78" stop-color="#f74dd9"/><stop offset=".87" stop-color="#f739d8"/><stop offset=".935" stop-color="#f728d7"/><stop offset=".975" stop-color="#f718d6"/><stop offset="1" stop-color="#f700d6"/></linearGradient>
<linearGradient id="w88" gradientUnits="userSpaceOnUse" x1="240.6" y1="179.3" x2="339.7" y2="265.8"><stop offset="0" stop-color="#f7f7f7"/><stop offset=".07" stop-color="#f7e2f3"/><stop offset=".16" stop-color="#f7cbef"/><stop offset=".27" stop-color="#f7b1eb"/><stop offset=".4" stop-color="#f796e7"/><stop offset=".54" stop-color="#f77ce3"/><stop offset=".67" stop-color="#f763e1"/><stop offset=".78" stop-color="#f74edf"/><stop offset=".87" stop-color="#f73ade"/><stop offset=".935" stop-color="#f728dd"/><stop offset=".975" stop-color="#f719dd"/><stop offset="1" stop-color="#f700dc"/></linearGradient>
<linearGradient id="w89" gradientUnits="userSpaceOnUse" x1="240.6" y1="179.3" x2="339.7" y2="265.8"><stop offset="0" stop-color="#f7f7f7"/><stop offset=".07" stop-color="#f7e3f4"/><stop offset=".16" stop-color="#f7ccf1"/><stop offset=".27" stop-color="#f7b3ee"/><stop offset=".4" stop-color="#f798eb"/><stop offset=".54" stop-color="#f77de8"/><stop offset=".67" stop-color="#f765e6"/><stop offset=".78" stop-color="#f74fe5"/><stop offset=".87" stop-color="#f73be4"/><stop offset=".935" stop-color="#f729e4"/><stop offset=".975" stop-color="#f719e3"/><stop offset="1" stop-color="#f700e3"/></linearGradient>
<linearGradient id="w90" gradientUnits="userSpaceOnUse" x1="240.6" y1="179.3" x2="339.7" y2="265.8"><stop offset="0" stop-color="#f7f7f7"/><stop offset=".07" stop-color="#f7e3f5"/><stop offset=".16" stop-color="#f7cdf3"/><stop offset=".27" stop-color="#f7b4f1"/><stop offset=".4" stop-color="#f799ef"/><stop offset=".54" stop-color="#f77eed"/><stop offset=".67" stop-color="#f766ec"/><stop offset=".78" stop-color="#f750eb"/><stop offset=".87" stop-color="#f73ceb"/><stop offset=".935" stop-color="#f729ea"/><stop offset=".975" stop-color="#f719ea"/><stop offset="1" stop-color="#f700ea"/></linearGradient>
<linearGradient id="w91" gradientUnits="userSpaceOnUse" x1="240.6" y1="179.3" x2="339.7" y2="265.8"><stop offset="0" stop-color="#f7f7f7"/><stop offset=".07" stop-color="#f7e4f6"/><stop offset=".16" stop-color="#f7cef5"/><stop offset=".27" stop-color="#f7b5f4"/><stop offset=".4" stop-color="#f79bf3"/><stop offset=".54" stop-color="#f780f3"/><stop offset=".67" stop-color="#f767f2"/><stop offset=".78" stop-color="#f751f1"/><stop offset=".87" stop-color="#f73df1"/><stop offset=".935" stop-color="#f72af1"/><stop offset=".975" stop-color="#f71af1"/><stop offset="1" stop-color="#f700f1"/></linearGradient>
<linearGradient id="w92" gradientUnits="userSpaceOnUse" x1="240.6" y1="179.3" x2="339.7" y2="265.8"><stop offset="0" stop-color="#f7f7f7"/><stop offset=".07" stop-color="#f7e5f7"/><stop offset=".16" stop-color="#f7cff7"/><stop offset=".27" stop-color="#f7b6f7"/><stop offset=".4" stop-color="#f79cf7"/><stop offset=".54" stop-color="#f781f7"/><stop offset=".67" stop-color="#f768f7"/><stop offset=".78" stop-color="#f752f7"/><stop offset=".87" stop-color="#f73df7"/><stop offset=".935" stop-color="#f72bf7"/><stop offset=".975" stop-color="#f71af7"/><stop offset="1" stop-color="#f700f7"/></linearGradient>
<linearGradient id="w93" gradientUnits="userSpaceOnUse" x1="240.6" y1="179.3" x2="339.7" y2="265.8"><stop offset="0" stop-color="#f7f7f7"/><stop offset=".07" stop-color="#f6e4f7"/><stop offset=".16" stop-color="#f5cef7"/><stop offset=".27" stop-color="#f4b5f7"/><stop offset=".4" stop-color="#f39bf7"/><stop offset=".54" stop-color="#f280f7"/><stop offset=".67" stop-color="#f167f7"/><stop offset=".78" stop-color="#f051f7"/><stop offset=".87" stop-color="#f03df7"/><stop offset=".935" stop-color="#f02af7"/><stop offset=".975" stop-color="#f01af7"/><stop offset="1" stop-color="#ef00f7"/></linearGradient>
<linearGradient id="w94" gradientUnits="userSpaceOnUse" x1="240.6" y1="179.3" x2="339.7" y2="265.8"><stop offset="0" stop-color="#f7f7f7"/><stop offset=".07" stop-color="#f5e4f7"/><stop offset=".16" stop-color="#f3cdf7"/><stop offset=".27" stop-color="#f1b4f7"/><stop offset=".4" stop-color="#ee99f7"/><stop offset=".54" stop-color="#ec7ef7"/><stop offset=".67" stop-color="#eb66f7"/><stop offset=".78" stop-color="#ea50f7"/><stop offset=".87" stop-color="#e93cf7"/><stop offset=".935" stop-color="#e929f7"/><stop offset=".975" stop-color="#e919f7"/><stop offset="1" stop-color="#e800f7"/></linearGradient>
<linearGradient id="w95" gradientUnits="userSpaceOnUse" x1="240.6" y1="179.3" x2="339.7" y2="265.8"><stop offset="0" stop-color="#f7f7f7"/><stop offset=".07" stop-color="#f4e3f7"/><stop offset=".16" stop-color="#f1ccf7"/><stop offset=".27" stop-color="#edb3f7"/><stop offset=".4" stop-color="#ea98f7"/><stop offset=".54" stop-color="#e77df7"/><stop offset=".67" stop-color="#e565f7"/><stop offset=".78" stop-color="#e44ff7"/><stop offset=".87" stop-color="#e33bf7"/><stop offset=".935" stop-color="#e229f7"/><stop offset=".975" stop-color="#e219f7"/><stop offset="1" stop-color="#e200f7"/></linearGradient>
<linearGradient id="w96" gradientUnits="userSpaceOnUse" x1="240.6" y1="179.3" x2="339.7" y2="265.8"><stop offset="0" stop-color="#f7f7f7"/><stop offset=".07" stop-color="#f3e3f7"/><stop offset=".16" stop-color="#efcbf7"/><stop offset=".27" stop-color="#eab2f7"/><stop offset=".4" stop-color="#e697f7"/><stop offset=".54" stop-color="#e27cf7"/><stop offset=".67" stop-color="#e064f7"/><stop offset=".78" stop-color="#de4ef7"/><stop offset=".87" stop-color="#dd3af7"/><stop offset=".935" stop-color="#dc28f7"/><stop offset=".975" stop-color="#db19f7"/><stop offset="1" stop-color="#db00f7"/></linearGradient>
<linearGradient id="w97" gradientUnits="userSpaceOnUse" x1="240.6" y1="179.3" x2="339.7" y2="265.8"><stop offset="0" stop-color="#f7f7f7"/><stop offset=".07" stop-color="#f2e2f7"/><stop offset=".16" stop-color="#eccaf7"/><stop offset=".27" stop-color="#e7b1f7"/><stop offset=".4" stop-color="#e296f7"/><stop offset=".54" stop-color="#dd7bf7"/><stop offset=".67" stop-color="#da63f7"/><stop offset=".78" stop-color="#d84df7"/><stop offset=".87" stop-color="#d63af7"/><stop offset=".935" stop-color="#d528f7"/><stop offset=".975" stop-color="#d518f7"/><stop offset="1" stop-color="#d400f7"/></linearGradient>
<linearGradient id="w98" gradientUnits="userSpaceOnUse" x1="240.6" y1="179.3" x2="339.7" y2="265.8"><stop offset="0" stop-color="#f7f7f7"/><stop offset=".07" stop-color="#f1e2f7"/><stop offset=".16" stop-color="#eacaf7"/><stop offset=".27" stop-color="#e4b0f7"/><stop offset=".4" stop-color="#de95f7"/><stop offset=".54" stop-color="#d97af7"/><stop offset=".67" stop-color="#d562f7"/><stop offset=".78" stop-color="#d24df7"/><stop offset=".87" stop-color="#d039f7"/><stop offset=".935" stop-color="#cf27f7"/><stop offset=".975" stop-color="#ce18f7"/><stop offset="1" stop-color="#ce00f7"/></linearGradient>
<linearGradient id="w99" gradientUnits="userSpaceOnUse" x1="240.6" y1="179.3" x2="339.7" y2="265.8"><stop offset="0" stop-color="#f7f7f7"/><stop offset=".07" stop-color="#f0e1f7"/><stop offset=".16" stop-color="#e8c9f7"/><stop offset=".27" stop-color="#e1aff7"/><stop offset=".4" stop-color="#da93f7"/><stop offset=".54" stop-color="#d479f7"/><stop offset=".67" stop-color="#cf61f7"/><stop offset=".78" stop-color="#cc4cf7"/><stop offset=".87" stop-color="#ca38f7"/><stop offset=".935" stop-color="#c927f7"/><stop offset=".975" stop-color="#c818f7"/><stop offset="1" stop-color="#c700f7"/></linearGradient>
<linearGradient id="w100" gradientUnits="userSpaceOnUse" x1="240.6" y1="179.3" x2="339.7" y2="265.8"><stop offset="0" stop-color="#f7f7f7"/><stop offset=".07" stop-color="#efe1f7"/><stop offset=".16" stop-color="#e6c8f7"/><stop offset=".27" stop-color="#deaef7"/><stop offset=".4" stop-color="#d692f7"/><stop offset=".54" stop-color="#cf78f7"/><stop offset=".67" stop-color="#ca60f7"/><stop offset=".78" stop-color="#c74bf7"/><stop offset=".87" stop-color="#c438f7"/><stop offset=".935" stop-color="#c227f7"/><stop offset=".975" stop-color="#c218f7"/><stop offset="1" stop-color="#c100f7"/></linearGradient>
<linearGradient id="w101" gradientUnits="userSpaceOnUse" x1="240.6" y1="179.3" x2="339.7" y2="265.8"><stop offset="0" stop-color="#f7f7f7"/><stop offset=".07" stop-color="#eee1f7"/><stop offset=".16" stop-color="#e4c7f7"/><stop offset=".27" stop-color="#daadf7"/><stop offset=".4" stop-color="#d291f7"/><stop offset=".54" stop-color="#ca77f7"/><stop offset=".67" stop-color="#c55ff7"/><stop offset=".78" stop-color="#c14af7"/><stop offset=".87" stop-color="#be37f7"/><stop offset=".935" stop-color="#bc26f7"/><stop offset=".975" stop-color="#bb17f7"/><stop offset="1" stop-color="#bb00f7"/></linearGradient>
<linearGradient id="w102" gradientUnits="userSpaceOnUse" x1="240.6" y1="179.3" x2="339.7" y2="265.8"><stop offset="0" stop-color="#f7f7f7"/><stop offset=".07" stop-color="#ede0f7"/><stop offset=".16" stop-color="#e2c6f7"/><stop offset=".27" stop-color="#d7acf7"/><stop offset=".4" stop-color="#ce90f7"/><stop offset=".54" stop-color="#c676f7"/><stop offset=".67" stop-color="#c05ef7"/><stop offset=".78" stop-color="#bb4af7"/><stop offset=".87" stop-color="#b837f7"/><stop offset=".935" stop-color="#b626f7"/><stop offset=".975" stop-color="#b517f7"/><stop offset="1" stop-color="#b500f7"/></linearGradient>
<linearGradient id="w103" gradientUnits="userSpaceOnUse" x1="240.6" y1="179.3" x2="339.7" y2="265.8"><stop offset="0" stop-color="#f7f7f7"/><stop offset=".07" stop-color="#ece0f7"/><stop offset=".16" stop-color="#e0c6f7"/><stop offset=".27" stop-color="#d4abf7"/><stop offset=".4" stop-color="#ca8ff7"/><stop offset=".54" stop-color="#c175f7"/><stop offset=".67" stop-color="#bb5df7"/><stop offset=".78" stop-color="#b649f7"/><stop offset=".87" stop-color="#b336f7"/><stop offset=".935" stop-color="#b025f7"/><stop offset=".975" stop-color="#af17f7"/><stop offset="1" stop-color="#ae00f7"/></linearGradient>
<linearGradient id="w104" gradientUnits="userSpaceOnUse" x1="240.6" y1="179.3" x2="339.7" y2="265.8"><stop offset="0" stop-color="#f7f7f7"/><stop offset=".07" stop-color="#ebdff7"/><stop offset=".16" stop-color="#dec5f7"/><stop offset=".27" stop-color="#d1aaf7"/><stop offset=".4" stop-color="#c68ef7"/><stop offset=".54" stop-color="#bd74f7"/><stop offset=".67" stop-color="#b65cf7"/><stop offset=".78" stop-color="#b048f7"/><stop offset=".87" stop-color="#ad36f7"/><stop offset=".935" stop-color="#ab25f7"/><stop offset=".975" stop-color="#a917f7"/><stop offset="1" stop-color="#a800f7"/></linearGradient>
<linearGradient id="w105" gradientUnits="userSpaceOnUse" x1="240.6" y1="179.3" x2="339.7" y2="265.8"><stop offset="0" stop-color="#f7f7f7"/><stop offset=".07" stop-color="#eadff7"/><stop offset=".16" stop-color="#dcc4f7"/><stop offset=".27" stop-color="#cea9f7"/><stop offset=".4" stop-color="#c28df7"/><stop offset=".54" stop-color="#b873f7"/><stop offset=".67" stop-color="#b05cf7"/><stop offset=".78" stop-color="#ab47f7"/><stop offset=".87" stop-color="#a735f7"/><stop offset=".935" stop-color="#a525f7"/><stop offset=".975" stop-color="#a316f7"/><stop offset="1" stop-color="#a200f7"/></linearGradient>
<linearGradient id="w106" gradientUnits="userSpaceOnUse" x1="240.6" y1="179.3" x2="339.7" y2="265.8"><stop offset="0" stop-color="#f7f7f7"/><stop offset=".07" stop-color="#e9def7"/><stop offset=".16" stop-color="#dac4f7"/><stop offset=".27" stop-color="#cca8f7"/><stop offset=".4" stop-color="#bf8cf7"/><stop offset=".54" stop-color="#b472f7"/><stop offset=".67" stop-color="#ab5bf7"/><stop offset=".78" stop-color="#a647f7"/><stop offset=".87" stop-color="#a235f7"/><stop offset=".935" stop-color="#9f24f7"/><stop offset=".975" stop-color="#9d16f7"/><stop offset="1" stop-color="#9c00f7"/></linearGradient>
<linearGradient id="w107" gradientUnits="userSpaceOnUse" x1="240.6" y1="179.3" x2="339.7" y2="265.8"><stop offset="0" stop-color="#f7f7f7"/><stop offset=".07" stop-color="#e8def7"/><stop offset=".16" stop-color="#d8c3f7"/><stop offset=".27" stop-color="#c9a7f7"/><stop offset=".4" stop-color="#bb8bf7"/><stop offset=".54" stop-color="#af71f7"/><stop offset=".67" stop-color="#a65af7"/><stop offset=".78" stop-color="#a046f7"/><stop offset=".87" stop-color="#9c34f7"/><stop offset=".935" stop-color="#9924f7"/><stop offset=".975" stop-color="#9716f7"/><stop offset="1" stop-color="#9600f7"/></linearGradient>
<linearGradient id="w108" gradientUnits="userSpaceOnUse" x1="240.6" y1="179.3" x2="339.7" y2="265.8"><stop offset="0" stop-color="#f7f7f7"/><stop offset=".07" stop-color="#e7def7"/><stop offset=".16" stop-color="#d6c2f7"/><stop offset=".27" stop-color="#c6a6f7"/><stop offset=".4" stop-color="#b78bf7"/><stop offset=".54" stop-color="#ab70f7"/><stop offset=".67" stop-color="#a259f7"/><stop offset=".78" stop-color="#9b46f7"/><stop offset=".87" stop-color="#9634f7"/><stop offset=".935" stop-color="#9324f7"/><stop offset=".975" stop-color="#9116f7"/><stop offset="1" stop-color="#9000f7"/></linearGradient>
<linearGradient id="w109" gradientUnits="userSpaceOnUse" x1="240.6" y1="179.3" x2="339.7" y2="265.8"><stop offset="0" stop-color="#f7f7f7"/><stop offset=".07" stop-color="#e6ddf7"/><stop offset=".16" stop-color="#d4c1f7"/><stop offset=".27" stop-color="#c3a5f7"/><stop offset=".4" stop-color="#b38af7"/><stop offset=".54" stop-color="#a66ff7"/><stop offset=".67" stop-color="#9d59f7"/><stop offset=".78" stop-color="#9645f7"/><stop offset=".87" stop-color="#9133f7"/><stop offset=".935" stop-color="#8d23f7"/><stop offset=".975" stop-color="#8b16f7"/><stop offset="1" stop-color="#8a00f7"/></linearGradient>
<linearGradient id="w110" gradientUnits="userSpaceOnUse" x1="240.6" y1="179.3" x2="339.7" y2="265.8"><stop offset="0" stop-color="#f7f7f7"/><stop offset=".07" stop-color="#e5ddf7"/><stop offset=".16" stop-color="#d2c1f7"/><stop offset=".27" stop-color="#c0a5f7"/><stop offset=".4" stop-color="#b089f7"/><stop offset=".54" stop-color="#a26ff7"/><stop offset=".67" stop-color="#9858f7"/><stop offset=".78" stop-color="#9044f7"/><stop offset=".87" stop-color="#8b33f7"/><stop offset=".935" stop-color="#8723f7"/><stop offset=".975" stop-color="#8515f7"/><stop offset="1" stop-color="#8400f7"/></linearGradient>
<linearGradient id="w111" gradientUnits="userSpaceOnUse" x1="240.6" y1="179.3" x2="339.7" y2="265.8"><stop offset="0" stop-color="#f7f7f7"/><stop offset=".07" stop-color="#e4dcf7"/><stop offset=".16" stop-color="#d0c0f7"/><stop offset=".27" stop-color="#bda4f7"/><stop offset=".4" stop-color="#ac88f7"/><stop offset=".54" stop-color="#9e6ef7"/><stop offset=".67" stop-color="#9357f7"/><stop offset=".78" stop-color="#8b44f7"/><stop offset=".87" stop-color="#8532f7"/><stop offset=".935" stop-color="#8223f7"/><stop offset=".975" stop-color="#7f15f7"/><stop offset="1" stop-color="#7e00f7"/></linearGradient>
<linearGradient id="w112" gradientUnits="userSpaceOnUse" x1="240.6" y1="179.3" x2="339.7" y2="265.8"><stop offset="0" stop-color="#f7f7f7"/><stop offset=".07" stop-color="#e3dcf7"/><stop offset=".16" stop-color="#cebff7"/><stop offset=".27" stop-color="#baa3f7"/><stop offset=".4" stop-color="#a887f7"/><stop offset=".54" stop-color="#996df7"/><stop offset=".67" stop-color="#8e57f7"/><stop offset=".78" stop-color="#8543f7"/><stop offset=".87" stop-color="#7f32f7"/><stop offset=".935" stop-color="#7c22f7"/><stop offset=".975" stop-color="#7915f7"/><stop offset="1" stop-color="#7800f7"/></linearGradient>
<linearGradient id="w113" gradientUnits="userSpaceOnUse" x1="240.6" y1="179.3" x2="339.7" y2="265.8"><stop offset="0" stop-color="#f7f7f7"/><stop offset=".07" stop-color="#e2dcf7"/><stop offset=".16" stop-color="#ccbff7"/><stop offset=".27" stop-color="#b7a2f7"/><stop offset=".4" stop-color="#a586f7"/><stop offset=".54" stop-color="#956cf7"/><stop offset=".67" stop-color="#8956f7"/><stop offset=".78" stop-color="#8043f7"/><stop offset=".87" stop-color="#7a31f7"/><stop offset=".935" stop-color="#7522f7"/><stop offset=".975" stop-color="#7315f7"/><stop offset="1" stop-color="#7100f7"/></linearGradient>
<linearGradient id="w114" gradientUnits="userSpaceOnUse" x1="240.6" y1="179.3" x2="339.7" y2="265.8"><stop offset="0" stop-color="#f7f7f7"/><stop offset=".07" stop-color="#e1dbf7"/><stop offset=".16" stop-color="#cabef7"/><stop offset=".27" stop-color="#b5a1f7"/><stop offset=".4" stop-color="#a185f7"/><stop offset=".54" stop-color="#906cf7"/><stop offset=".67" stop-color="#8455f7"/><stop offset=".78" stop-color="#7b42f7"/><stop offset=".87" stop-color="#7431f7"/><stop offset=".935" stop-color="#6f22f7"/><stop offset=".975" stop-color="#6d15f7"/><stop offset="1" stop-color="#6b00f7"/></linearGradient>
<linearGradient id="w115" gradientUnits="userSpaceOnUse" x1="240.6" y1="179.3" x2="339.7" y2="265.8"><stop offset="0" stop-color="#f7f7f7"/><stop offset=".07" stop-color="#e0dbf7"/><stop offset=".16" stop-color="#c8bdf7"/><stop offset=".27" stop-color="#b2a1f7"/><stop offset=".4" stop-color="#9d85f7"/><stop offset=".54" stop-color="#8c6bf7"/><stop offset=".67" stop-color="#7f55f7"/><stop offset=".78" stop-color="#7542f7"/><stop offset=".87" stop-color="#6e31f7"/><stop offset=".935" stop-color="#6922f7"/><stop offset=".975" stop-color="#6614f7"/><stop offset="1" stop-color="#6400f7"/></linearGradient>
<linearGradient id="w116" gradientUnits="userSpaceOnUse" x1="240.6" y1="179.3" x2="339.7" y2="265.8"><stop offset="0" stop-color="#f7f7f7"/><stop offset=".07" stop-color="#dfdaf7"/><stop offset=".16" stop-color="#c6bdf7"/><stop offset=".27" stop-color="#afa0f7"/><stop offset=".4" stop-color="#9a84f7"/><stop offset=".54" stop-color="#886af7"/><stop offset=".67" stop-color="#7a54f7"/><stop offset=".78" stop-color="#6f41f7"/><stop offset=".87" stop-color="#6830f7"/><stop offset=".935" stop-color="#6221f7"/><stop offset=".975" stop-color="#5f14f7"/><stop offset="1" stop-color="#5d00f7"/></linearGradient>
<linearGradient id="w117" gradientUnits="userSpaceOnUse" x1="240.6" y1="179.3" x2="339.7" y2="265.8"><stop offset="0" stop-color="#f7f7f7"/><stop offset=".07" stop-color="#dedaf7"/><stop offset=".16" stop-color="#c4bcf7"/><stop offset=".27" stop-color="#ac9ff7"/><stop offset=".4" stop-color="#9683f7"/><stop offset=".54" stop-color="#8369f7"/><stop offset=".67" stop-color="#7453f7"/><stop offset=".78" stop-color="#6941f7"/><stop offset=".87" stop-color="#6130f7"/><stop offset=".935" stop-color="#5c21f7"/><stop offset=".975" stop-color="#5814f7"/><stop offset="1" stop-color="#5600f7"/></linearGradient>
<linearGradient id="w118" gradientUnits="userSpaceOnUse" x1="240.6" y1="179.3" x2="339.7" y2="265.8"><stop offset="0" stop-color="#f7f7f7"/><stop offset=".07" stop-color="#dddaf7"/><stop offset=".16" stop-color="#c2bbf7"/><stop offset=".27" stop-color="#a99ef7"/><stop offset=".4" stop-color="#9382f7"/><stop offset=".54" stop-color="#7f69f7"/><stop offset=".67" stop-color="#6f53f7"/><stop offset=".78" stop-color="#6440f7"/><stop offset=".87" stop-color="#5b2ff7"/><stop offset=".935" stop-color="#5521f7"/><stop offset=".975" stop-color="#5114f7"/><stop offset="1" stop-color="#4f00f7"/></linearGradient>
<linearGradient id="w119" gradientUnits="userSpaceOnUse" x1="240.6" y1="179.3" x2="339.7" y2="265.8"><stop offset="0" stop-color="#f7f6f7"/><stop offset=".07" stop-color="#dcd9f7"/><stop offset=".16" stop-color="#c0bbf7"/><stop offset=".27" stop-color="#a79df7"/><stop offset=".4" stop-color="#8f82f7"/><stop offset=".54" stop-color="#7a68f7"/><stop offset=".67" stop-color="#6a52f7"/><stop offset=".78" stop-color="#5d40f7"/><stop offset=".87" stop-color="#542ff7"/><stop offset=".935" stop-color="#4d20f7"/><stop offset=".975" stop-color="#4914f7"/><stop offset="1" stop-color="#4700f7"/></linearGradient>
<linearGradient id="w120" gradientUnits="userSpaceOnUse" x1="240.6" y1="179.3" x2="339.7" y2="265.8"><stop offset="0" stop-color="#f7f6f7"/><stop offset=".07" stop-color="#dbd9f7"/><stop offset=".16" stop-color="#bfbaf7"/><stop offset=".27" stop-color="#a49df7"/><stop offset=".4" stop-color="#8b81f7"/><stop offset=".54" stop-color="#7667f7"/><stop offset=".67" stop-color="#6452f7"/><stop offset=".78" stop-color="#573ff7"/><stop offset=".87" stop-color="#4d2ff7"/><stop offset=".935" stop-color="#4520f7"/><stop offset=".975" stop-color="#4114f7"/><stop offset="1" stop-color="#3e00f7"/></linearGradient>
<linearGradient id="w121" gradientUnits="userSpaceOnUse" x1="240.6" y1="179.3" x2="339.7" y2="265.8"><stop offset="0" stop-color="#f7f6f7"/><stop offset=".07" stop-color="#dad8f7"/><stop offset=".16" stop-color="#bdb9f7"/><stop offset=".27" stop-color="#a19cf7"/><stop offset=".4" stop-color="#8880f7"/><stop offset=".54" stop-color="#7167f7"/><stop offset=".67" stop-color="#5f51f7"/><stop offset=".78" stop-color="#503ff7"/><stop offset=".87" stop-color="#452ef7"/><stop offset=".935" stop-color="#3d20f7"/><stop offset=".975" stop-color="#3714f7"/><stop offset="1" stop-color="#3400f7"/></linearGradient>
<linearGradient id="w122" gradientUnits="userSpaceOnUse" x1="240.6" y1="179.3" x2="339.7" y2="265.8"><stop offset="0" stop-color="#f7f6f7"/><stop offset=".07" stop-color="#d9d8f7"/><stop offset=".16" stop-color="#bbb9f7"/><stop offset=".27" stop-color="#9e9bf7"/><stop offset=".4" stop-color="#847ff7"/><stop offset=".54" stop-color="#6c66f7"/><stop offset=".67" stop-color="#5951f7"/><stop offset=".78" stop-color="#493ef7"/><stop offset=".87" stop-color="#3c2ef7"/><stop offset=".935" stop-color="#3320f7"/><stop offset=".975" stop-color="#2c13f7"/><stop offset="1" stop-color="#2800f7"/></linearGradient>
<linearGradient id="w123" gradientUnits="userSpaceOnUse" x1="240.6" y1="179.3" x2="339.7" y2="265.8"><stop offset="0" stop-color="#f7f6f7"/><stop offset=".07" stop-color="#d8d8f7"/><stop offset=".16" stop-color="#b9b8f7"/><stop offset=".27" stop-color="#9c9bf7"/><stop offset=".4" stop-color="#807ff7"/><stop offset=".54" stop-color="#6865f7"/><stop offset=".67" stop-color="#5350f7"/><stop offset=".78" stop-color="#423ef7"/><stop offset=".87" stop-color="#332ef7"/><stop offset=".935" stop-color="#271ff7"/><stop offset=".975" stop-color="#1e13f7"/><stop offset="1" stop-color="#1700f7"/></linearGradient>
<linearGradient id="w124" gradientUnits="userSpaceOnUse" x1="240.6" y1="179.3" x2="186.8" y2="189.2"><stop offset="0" stop-color="#f7f6f7"/><stop offset=".07" stop-color="#d8d8f7"/><stop offset=".16" stop-color="#b8b9f7"/><stop offset=".27" stop-color="#9b9bf7"/><stop offset=".4" stop-color="#7f7ff7"/><stop offset=".54" stop-color="#6566f7"/><stop offset=".67" stop-color="#5051f7"/><stop offset=".78" stop-color="#3e40f7"/><stop offset=".87" stop-color="#2e30f7"/><stop offset=".935" stop-color="#2023f7"/><stop offset=".975" stop-color="#1318f7"/><stop offset="1" stop-color="#000ff7"/></linearGradient>
<linearGradient id="w125" gradientUnits="userSpaceOnUse" x1="240.6" y1="179.3" x2="186.8" y2="189.2"><stop offset="0" stop-color="#f7f6f7"/><stop offset=".07" stop-color="#d8d8f7"/><stop offset=".16" stop-color="#b9baf7"/><stop offset=".27" stop-color="#9b9df7"/><stop offset=".4" stop-color="#8081f7"/><stop offset=".54" stop-color="#6669f7"/><stop offset=".67" stop-color="#5154f7"/><stop offset=".78" stop-color="#3e43f7"/><stop offset=".87" stop-color="#2e35f7"/><stop offset=".935" stop-color="#2029f7"/><stop offset=".975" stop-color="#1320f7"/><stop offset="1" stop-color="#001af7"/></linearGradient>
<linearGradient id="w126" gradientUnits="userSpaceOnUse" x1="240.6" y1="179.3" x2="186.8" y2="189.2"><stop offset="0" stop-color="#f7f6f7"/><stop offset=".07" stop-color="#d9d9f7"/><stop offset=".16" stop-color="#babbf7"/><stop offset=".27" stop-color="#9c9ef7"/><stop offset=".4" stop-color="#8083f7"/><stop offset=".54" stop-color="#676bf7"/><stop offset=".67" stop-color="#5157f7"/><stop offset=".78" stop-color="#3f47f7"/><stop offset=".87" stop-color="#2f39f7"/><stop offset=".935" stop-color="#202ef7"/><stop offset=".975" stop-color="#1427f7"/><stop offset="1" stop-color="#0021f7"/></linearGradient>
<linearGradient id="w127" gradientUnits="userSpaceOnUse" x1="240.6" y1="179.3" x2="186.8" y2="189.2"><stop offset="0" stop-color="#f7f7f7"/><stop offset=".07" stop-color="#d9daf7"/><stop offset=".16" stop-color="#babcf7"/><stop offset=".27" stop-color="#9da0f7"/><stop offset=".4" stop-color="#8186f7"/><stop offset=".54" stop-color="#686ef7"/><stop offset=".67" stop-color="#525af7"/><stop offset=".78" stop-color="#3f4af7"/><stop offset=".87" stop-color="#2f3df7"/><stop offset=".935" stop-color="#2033f7"/><stop offset=".975" stop-color="#142cf7"/><stop offset="1" stop-color="#0028f7"/></linearGradient>
<linearGradient id="w128" gradientUnits="userSpaceOnUse" x1="240.6" y1="179.3" x2="186.8" y2="189.2"><stop offset="0" stop-color="#f7f7f7"/><stop offset=".07" stop-color="#d9daf7"/><stop offset=".16" stop-color="#bbbdf7"/><stop offset=".27" stop-color="#9ea2f7"/><stop offset=".4" stop-color="#8288f7"/><stop offset=".54" stop-color="#6870f7"/><stop offset=".67" stop-color="#535df7"/><stop offset=".78" stop-color="#404ef7"/><stop offset=".87" stop-color="#2f41f7"/><stop offset=".935" stop-color="#2138f7"/><stop offset=".975" stop-color="#1432f7"/><stop offset="1" stop-color="#002ef7"/></linearGradient>
<linearGradient id="w129" gradientUnits="userSpaceOnUse" x1="240.6" y1="179.3" x2="186.8" y2="189.2"><stop offset="0" stop-color="#f7f7f7"/><stop offset=".07" stop-color="#dadbf7"/><stop offset=".16" stop-color="#bcbff7"/><stop offset=".27" stop-color="#9fa3f7"/><stop offset=".4" stop-color="#838af7"/><stop offset=".54" stop-color="#6973f7"/><stop offset=".67" stop-color="#5360f7"/><stop offset=".78" stop-color="#4151f7"/><stop offset=".87" stop-color="#3045f7"/><stop offset=".935" stop-color="#213cf7"/><stop offset=".975" stop-color="#1437f7"/><stop offset="1" stop-color="#0033f7"/></linearGradient>
<linearGradient id="w130" gradientUnits="userSpaceOnUse" x1="240.6" y1="179.3" x2="186.8" y2="189.2"><stop offset="0" stop-color="#f7f7f7"/><stop offset=".07" stop-color="#dadcf7"/><stop offset=".16" stop-color="#bdc0f7"/><stop offset=".27" stop-color="#a0a5f7"/><stop offset=".4" stop-color="#848cf7"/><stop offset=".54" stop-color="#6a75f7"/><stop offset=".67" stop-color="#5463f7"/><stop offset=".78" stop-color="#4154f7"/><stop offset=".87" stop-color="#3049f7"/><stop offset=".935" stop-color="#2141f7"/><stop offset=".975" stop-color="#143bf7"/><stop offset="1" stop-color="#0038f7"/></linearGradient>
<linearGradient id="w131" gradientUnits="userSpaceOnUse" x1="240.6" y1="179.3" x2="186.8" y2="189.2"><stop offset="0" stop-color="#f7f7f7"/><stop offset=".07" stop-color="#dbddf7"/><stop offset=".16" stop-color="#bdc1f7"/><stop offset=".27" stop-color="#a1a7f7"/><stop offset=".4" stop-color="#858ef7"/><stop offset=".54" stop-color="#6b78f7"/><stop offset=".67" stop-color="#5566f7"/><stop offset=".78" stop-color="#4258f7"/><stop offset=".87" stop-color="#314df7"/><stop offset=".935" stop-color="#2245f7"/><stop offset=".975" stop-color="#1440f7"/><stop offset="1" stop-color="#003df7"/></linearGradient>
<linearGradient id="w132" gradientUnits="userSpaceOnUse" x1="240.6" y1="179.3" x2="186.8" y2="189.2"><stop offset="0" stop-color="#f7f7f7"/><stop offset=".07" stop-color="#dbddf7"/><stop offset=".16" stop-color="#bec3f7"/><stop offset=".27" stop-color="#a1a9f7"/><stop offset=".4" stop-color="#8690f7"/><stop offset=".54" stop-color="#6c7bf7"/><stop offset=".67" stop-color="#5569f7"/><stop offset=".78" stop-color="#425bf7"/><stop offset=".87" stop-color="#3150f7"/><stop offset=".935" stop-color="#2249f7"/><stop offset=".975" stop-color="#1544f7"/><stop offset="1" stop-color="#0041f7"/></linearGradient>
<linearGradient id="w133" gradientUnits="userSpaceOnUse" x1="240.6" y1="179.3" x2="186.8" y2="189.2"><stop offset="0" stop-color="#f7f7f7"/><stop offset=".07" stop-color="#dcdef7"/><stop offset=".16" stop-color="#bfc4f7"/><stop offset=".27" stop-color="#a2abf7"/><stop offset=".4" stop-color="#8693f7"/><stop offset=".54" stop-color="#6d7df7"/><stop offset=".67" stop-color="#566cf7"/><stop offset=".78" stop-color="#435ff7"/><stop offset=".87" stop-color="#3254f7"/><stop offset=".935" stop-color="#224df7"/><stop offset=".975" stop-color="#1548f7"/><stop offset="1" stop-color="#0045f7"/></linearGradient>
<linearGradient id="w134" gradientUnits="userSpaceOnUse" x1="240.6" y1="179.3" x2="186.8" y2="189.2"><stop offset="0" stop-color="#f7f7f7"/><stop offset=".07" stop-color="#dcdff7"/><stop offset=".16" stop-color="#c0c5f7"/><stop offset=".27" stop-color="#a3acf7"/><stop offset=".4" stop-color="#8795f7"/><stop offset=".54" stop-color="#6d80f7"/><stop offset=".67" stop-color="#576ff7"/><stop offset=".78" stop-color="#4462f7"/><stop offset=".87" stop-color="#3258f7"/><stop offset=".935" stop-color="#2251f7"/><stop offset=".975" stop-color="#154cf7"/><stop offset="1" stop-color="#004af7"/></linearGradient>
<linearGradient id="w135" gradientUnits="userSpaceOnUse" x1="240.6" y1="179.3" x2="186.8" y2="189.2"><stop offset="0" stop-color="#f7f7f7"/><stop offset=".07" stop-color="#dddff7"/><stop offset=".16" stop-color="#c0c7f7"/><stop offset=".27" stop-color="#a4aef7"/><stop offset=".4" stop-color="#8897f7"/><stop offset=".54" stop-color="#6e83f7"/><stop offset=".67" stop-color="#5872f7"/><stop offset=".78" stop-color="#4465f7"/><stop offset=".87" stop-color="#335cf7"/><stop offset=".935" stop-color="#2355f7"/><stop offset=".975" stop-color="#1551f7"/><stop offset="1" stop-color="#004ef7"/></linearGradient>
<linearGradient id="w136" gradientUnits="userSpaceOnUse" x1="240.6" y1="179.3" x2="186.8" y2="189.2"><stop offset="0" stop-color="#f7f7f7"/><stop offset=".07" stop-color="#dde0f7"/><stop offset=".16" stop-color="#c1c8f7"/><stop offset=".27" stop-color="#a5b0f7"/><stop offset=".4" stop-color="#8999f7"/><stop offset=".54" stop-color="#6f85f7"/><stop offset=".67" stop-color="#5875f7"/><stop offset=".78" stop-color="#4569f7"/><stop offset=".87" stop-color="#335ff7"/><stop offset=".935" stop-color="#2359f7"/><stop offset=".975" stop-color="#1655f7"/><stop offset="1" stop-color="#0052f7"/></linearGradient>
<linearGradient id="w137" gradientUnits="userSpaceOnUse" x1="240.6" y1="179.3" x2="186.8" y2="189.2"><stop offset="0" stop-color="#f7f7f7"/><stop offset=".07" stop-color="#dee1f7"/><stop offset=".16" stop-color="#c2c9f7"/><stop offset=".27" stop-color="#a6b2f7"/><stop offset=".4" stop-color="#8a9cf7"/><stop offset=".54" stop-color="#7088f7"/><stop offset=".67" stop-color="#5978f7"/><stop offset=".78" stop-color="#456cf7"/><stop offset=".87" stop-color="#3463f7"/><stop offset=".935" stop-color="#245df7"/><stop offset=".975" stop-color="#1659f7"/><stop offset="1" stop-color="#0056f7"/></linearGradient>
<linearGradient id="w138" gradientUnits="userSpaceOnUse" x1="240.6" y1="179.3" x2="186.8" y2="189.2"><stop offset="0" stop-color="#f7f7f7"/><stop offset=".07" stop-color="#dee2f7"/><stop offset=".16" stop-color="#c3cbf7"/><stop offset=".27" stop-color="#a7b4f7"/><stop offset=".4" stop-color="#8b9ef7"/><stop offset=".54" stop-color="#718bf7"/><stop offset=".67" stop-color="#5a7bf7"/><stop offset=".78" stop-color="#4670f7"/><stop offset=".87" stop-color="#3467f7"/><stop offset=".935" stop-color="#2460f7"/><stop offset=".975" stop-color="#165df7"/><stop offset="1" stop-color="#005af7"/></linearGradient>
<linearGradient id="w139" gradientUnits="userSpaceOnUse" x1="240.6" y1="179.3" x2="186.8" y2="189.2"><stop offset="0" stop-color="#f7f7f7"/><stop offset=".07" stop-color="#dfe2f7"/><stop offset=".16" stop-color="#c4ccf7"/><stop offset=".27" stop-color="#a8b6f7"/><stop offset=".4" stop-color="#8ca1f7"/><stop offset=".54" stop-color="#728ef7"/><stop offset=".67" stop-color="#5b7ef7"/><stop offset=".78" stop-color="#4773f7"/><stop offset=".87" stop-color="#356af7"/><stop offset=".935" stop-color="#2464f7"/><stop offset=".975" stop-color="#1661f7"/><stop offset="1" stop-color="#005ff7"/></linearGradient>
<linearGradient id="w140" gradientUnits="userSpaceOnUse" x1="240.6" y1="179.3" x2="186.8" y2="189.2"><stop offset="0" stop-color="#f7f7f7"/><stop offset=".07" stop-color="#dfe3f7"/><stop offset=".16" stop-color="#c4cdf7"/><stop offset=".27" stop-color="#a9b8f7"/><stop offset=".4" stop-color="#8ea3f7"/><stop offset=".54" stop-color="#7390f7"/><stop offset=".67" stop-color="#5c82f7"/><stop offset=".78" stop-color="#4877f7"/><stop offset=".87" stop-color="#356ef7"/><stop offset=".935" stop-color="#2568f7"/><stop offset=".975" stop-color="#1665f7"/><stop offset="1" stop-color="#0063f7"/></linearGradient>
<linearGradient id="w141" gradientUnits="userSpaceOnUse" x1="240.6" y1="179.3" x2="186.8" y2="189.2"><stop offset="0" stop-color="#f7f7f7"/><stop offset=".07" stop-color="#dfe4f7"/><stop offset=".16" stop-color="#c5cff7"/><stop offset=".27" stop-color="#aabaf7"/><stop offset=".4" stop-color="#8fa6f7"/><stop offset=".54" stop-color="#7493f7"/><stop offset=".67" stop-color="#5d85f7"/><stop offset=".78" stop-color="#487af7"/><stop offset=".87" stop-color="#3672f7"/><stop offset=".935" stop-color="#256cf7"/><stop offset=".975" stop-color="#1769f7"/><stop offset="1" stop-color="#0067f7"/></linearGradient>
<linearGradient id="w142" gradientUnits="userSpaceOnUse" x1="240.6" y1="179.3" x2="186.8" y2="189.2"><stop offset="0" stop-color="#f7f7f7"/><stop offset=".07" stop-color="#e0e4f7"/><stop offset=".16" stop-color="#c6d0f7"/><stop offset=".27" stop-color="#abbcf7"/><stop offset=".4" stop-color="#90a8f7"/><stop offset=".54" stop-color="#7596f7"/><stop offset=".67" stop-color="#5e88f7"/><stop offset=".78" stop-color="#497ef7"/><stop offset=".87" stop-color="#3676f7"/><stop offset=".935" stop-color="#2670f7"/><stop offset=".975" stop-color="#176df7"/><stop offset="1" stop-color="#006bf7"/></linearGradient>
<linearGradient id="w143" gradientUnits="userSpaceOnUse" x1="240.6" y1="179.3" x2="186.8" y2="189.2"><stop offset="0" stop-color="#f7f7f7"/><stop offset=".07" stop-color="#e0e5f7"/><stop offset=".16" stop-color="#c7d2f7"/><stop offset=".27" stop-color="#acbef7"/><stop offset=".4" stop-color="#91abf7"/><stop offset=".54" stop-color="#7699f7"/><stop offset=".67" stop-color="#5f8cf7"/><stop offset=".78" stop-color="#4a81f7"/><stop offset=".87" stop-color="#377af7"/><stop offset=".935" stop-color="#2674f7"/><stop offset=".975" stop-color="#1771f7"/><stop offset="1" stop-color="#006ff7"/></linearGradient>
<linearGradient id="w144" gradientUnits="userSpaceOnUse" x1="240.6" y1="179.3" x2="186.8" y2="189.2"><stop offset="0" stop-color="#f7f7f7"/><stop offset=".07" stop-color="#e1e6f7"/><stop offset=".16" stop-color="#c8d3f7"/><stop offset=".27" stop-color="#adc0f7"/><stop offset=".4" stop-color="#92adf7"/><stop offset=".54" stop-color="#789cf7"/><stop offset=".67" stop-color="#608ff7"/><stop offset=".78" stop-color="#4b85f7"/><stop offset=".87" stop-color="#387df7"/><stop offset=".935" stop-color="#2778f7"/><stop offset=".975" stop-color="#1875f7"/><stop offset="1" stop-color="#0073f7"/></linearGradient>
<linearGradient id="w145" gradientUnits="userSpaceOnUse" x1="240.6" y1="179.3" x2="186.8" y2="189.2"><stop offset="0" stop-color="#f7f7f7"/><stop offset=".07" stop-color="#e1e7f7"/><stop offset=".16" stop-color="#c9d5f7"/><stop offset=".27" stop-color="#afc2f7"/><stop offset=".4" stop-color="#93b0f7"/><stop offset=".54" stop-color="#79a0f7"/><stop offset=".67" stop-color="#6193f7"/><stop offset=".78" stop-color="#4c89f7"/><stop offset=".87" stop-color="#3881f7"/><stop offset=".935" stop-color="#277cf7"/><stop offset=".975" stop-color="#187af7"/><stop offset="1" stop-color="#0078f7"/></linearGradient>
<linearGradient id="w146" gradientUnits="userSpaceOnUse" x1="240.6" y1="179.3" x2="186.8" y2="189.2"><stop offset="0" stop-color="#f7f7f7"/><stop offset=".07" stop-color="#e2e8f7"/><stop offset=".16" stop-color="#cad6f7"/><stop offset=".27" stop-color="#b0c4f7"/><stop offset=".4" stop-color="#95b3f7"/><stop offset=".54" stop-color="#7aa3f7"/><stop offset=".67" stop-color="#6296f7"/><stop offset=".78" stop-color="#4d8df7"/><stop offset=".87" stop-color="#3986f7"/><stop offset=".935" stop-color="#2881f7"/><stop offset=".975" stop-color="#187ef7"/><stop offset="1" stop-color="#007cf7"/></linearGradient>
<linearGradient id="w147" gradientUnits="userSpaceOnUse" x1="240.6" y1="179.3" x2="186.8" y2="189.2"><stop offset="0" stop-color="#f7f7f7"/><stop offset=".07" stop-color="#e2e8f7"/><stop offset=".16" stop-color="#cbd8f7"/><stop offset=".27" stop-color="#b1c6f7"/><stop offset=".4" stop-color="#96b5f7"/><stop offset=".54" stop-color="#7ba6f7"/><stop offset=".67" stop-color="#639af7"/><stop offset=".78" stop-color="#4e91f7"/><stop offset=".87" stop-color="#3a8af7"/><stop offset=".935" stop-color="#2885f7"/><stop offset=".975" stop-color="#1982f7"/><stop offset="1" stop-color="#0081f7"/></linearGradient>
<linearGradient id="w148" gradientUnits="userSpaceOnUse" x1="240.6" y1="179.3" x2="186.8" y2="189.2"><stop offset="0" stop-color="#f7f7f7"/><stop offset=".07" stop-color="#e3e9f7"/><stop offset=".16" stop-color="#ccd9f7"/><stop offset=".27" stop-color="#b2c9f7"/><stop offset=".4" stop-color="#97b8f7"/><stop offset=".54" stop-color="#7ca9f7"/><stop offset=".67" stop-color="#649ef7"/><stop offset=".78" stop-color="#4f95f7"/><stop offset=".87" stop-color="#3b8ef7"/><stop offset=".935" stop-color="#2989f7"/><stop offset=".975" stop-color="#1987f7"/><stop offset="1" stop-color="#0085f7"/></linearGradient>
<linearGradient id="w149" gradientUnits="userSpaceOnUse" x1="240.6" y1="179.3" x2="186.8" y2="189.2"><stop offset="0" stop-color="#f7f7f7"/><stop offset=".07" stop-color="#e3eaf7"/><stop offset=".16" stop-color="#ccdbf7"/><stop offset=".27" stop-color="#b3cbf7"/><stop offset=".4" stop-color="#99bbf7"/><stop offset=".54" stop-color="#7eadf7"/><stop offset=".67" stop-color="#65a1f7"/><stop offset=".78" stop-color="#5099f7"/><stop offset=".87" stop-color="#3b92f7"/><stop offset=".935" stop-color="#298ef7"/><stop offset=".975" stop-color="#198bf7"/><stop offset="1" stop-color="#008af7"/></linearGradient>
<linearGradient id="w150" gradientUnits="userSpaceOnUse" x1="240.6" y1="179.3" x2="186.8" y2="189.2"><stop offset="0" stop-color="#f7f7f7"/><stop offset=".07" stop-color="#e4ebf7"/><stop offset=".16" stop-color="#cddcf7"/><stop offset=".27" stop-color="#b5cdf7"/><stop offset=".4" stop-color="#9abef7"/><stop offset=".54" stop-color="#7fb0f7"/><stop offset=".67" stop-color="#67a5f7"/><stop offset=".78" stop-color="#519df7"/><stop offset=".87" stop-color="#3c97f7"/><stop offset=".935" stop-color="#2a92f7"/><stop offset=".975" stop-color="#1a90f7"/><stop offset="1" stop-color="#008ef7"/></linearGradient>
<linearGradient id="w151" gradientUnits="userSpaceOnUse" x1="240.6" y1="179.3" x2="186.8" y2="189.2"><stop offset="0" stop-color="#f7f7f7"/><stop offset=".07" stop-color="#e5ebf7"/><stop offset=".16" stop-color="#cedef7"/><stop offset=".27" stop-color="#b6cff7"/><stop offset=".4" stop-color="#9bc1f7"/><stop offset=".54" stop-color="#81b4f7"/><stop offset=".67" stop-color="#68a9f7"/><stop offset=".78" stop-color="#52a1f7"/><stop offset=".87" stop-color="#3d9bf7"/><stop offset=".935" stop-color="#2a97f7"/><stop offset=".975" stop-color="#1a95f7"/><stop offset="1" stop-color="#0093f7"/></linearGradient>
<linearGradient id="w152" gradientUnits="userSpaceOnUse" x1="240.6" y1="179.3" x2="186.8" y2="189.2"><stop offset="0" stop-color="#f7f7f7"/><stop offset=".07" stop-color="#e5ecf7"/><stop offset=".16" stop-color="#cfdff7"/><stop offset=".27" stop-color="#b7d2f7"/><stop offset=".4" stop-color="#9dc4f7"/><stop offset=".54" stop-color="#82b8f7"/><stop offset=".67" stop-color="#69adf7"/><stop offset=".78" stop-color="#53a6f7"/><stop offset=".87" stop-color="#3ea0f7"/><stop offset=".935" stop-color="#2b9cf7"/><stop offset=".975" stop-color="#1a9af7"/><stop offset="1" stop-color="#0098f7"/></linearGradient>
<linearGradient id="w153" gradientUnits="userSpaceOnUse" x1="240.6" y1="179.3" x2="186.8" y2="189.2"><stop offset="0" stop-color="#f7f7f7"/><stop offset=".07" stop-color="#e6edf7"/><stop offset=".16" stop-color="#d0e1f7"/><stop offset=".27" stop-color="#b9d4f7"/><stop offset=".4" stop-color="#9ec7f7"/><stop offset=".54" stop-color="#84bbf7"/><stop offset=".67" stop-color="#6bb2f7"/><stop offset=".78" stop-color="#54aaf7"/><stop offset=".87" stop-color="#3fa5f7"/><stop offset=".935" stop-color="#2ca1f7"/><stop offset=".975" stop-color="#1b9ff7"/><stop offset="1" stop-color="#009ef7"/></linearGradient>
<linearGradient id="w154" gradientUnits="userSpaceOnUse" x1="240.6" y1="179.3" x2="186.8" y2="189.2"><stop offset="0" stop-color="#f7f7f7"/><stop offset=".07" stop-color="#e6eef7"/><stop offset=".16" stop-color="#d1e3f7"/><stop offset=".27" stop-color="#bad7f7"/><stop offset=".4" stop-color="#a0cbf7"/><stop offset=".54" stop-color="#85bff7"/><stop offset=".67" stop-color="#6cb6f7"/><stop offset=".78" stop-color="#55aff7"/><stop offset=".87" stop-color="#40aaf7"/><stop offset=".935" stop-color="#2ca6f7"/><stop offset=".975" stop-color="#1ba4f7"/><stop offset="1" stop-color="#00a3f7"/></linearGradient>
<linearGradient id="w155" gradientUnits="userSpaceOnUse" x1="240.6" y1="179.3" x2="186.8" y2="189.2"><stop offset="0" stop-color="#f7f7f7"/><stop offset=".07" stop-color="#e7eff7"/><stop offset=".16" stop-color="#d2e4f7"/><stop offset=".27" stop-color="#bbd9f7"/><stop offset=".4" stop-color="#a2cef7"/><stop offset=".54" stop-color="#87c3f7"/><stop offset=".67" stop-color="#6ebbf7"/><stop offset=".78" stop-color="#57b4f7"/><stop offset=".87" stop-color="#41aff7"/><stop offset=".935" stop-color="#2dacf7"/><stop offset=".975" stop-color="#1caaf7"/><stop offset="1" stop-color="#00a8f7"/></linearGradient>
<linearGradient id="w156" gradientUnits="userSpaceOnUse" x1="240.6" y1="179.3" x2="186.8" y2="189.2"><stop offset="0" stop-color="#f7f7f7"/><stop offset=".07" stop-color="#e7eff7"/><stop offset=".16" stop-color="#d3e6f7"/><stop offset=".27" stop-color="#bddcf7"/><stop offset=".4" stop-color="#a3d1f7"/><stop offset=".54" stop-color="#88c7f7"/><stop offset=".67" stop-color="#6fbff7"/><stop offset=".78" stop-color="#58b9f7"/><stop offset=".87" stop-color="#42b4f7"/><stop offset=".935" stop-color="#2eb1f7"/><stop offset=".975" stop-color="#1caff7"/><stop offset="1" stop-color="#00aef7"/></linearGradient>
<linearGradient id="w157" gradientUnits="userSpaceOnUse" x1="240.6" y1="179.3" x2="186.8" y2="189.2"><stop offset="0" stop-color="#f7f7f7"/><stop offset=".07" stop-color="#e8f0f7"/><stop offset=".16" stop-color="#d4e8f7"/><stop offset=".27" stop-color="#bedef7"/><stop offset=".4" stop-color="#a5d5f7"/><stop offset=".54" stop-color="#8accf7"/><stop offset=".67" stop-color="#71c4f7"/><stop offset=".78" stop-color="#59bef7"/><stop offset=".87" stop-color="#43baf7"/><stop offset=".935" stop-color="#2fb7f7"/><stop offset=".975" stop-color="#1db5f7"/><stop offset="1" stop-color="#00b4f7"/></linearGradient>
<linearGradient id="w158" gradientUnits="userSpaceOnUse" x1="240.6" y1="179.3" x2="186.8" y2="189.2"><stop offset="0" stop-color="#f7f7f7"/><stop offset=".07" stop-color="#e8f1f7"/><stop offset=".16" stop-color="#d5e9f7"/><stop offset=".27" stop-color="#c0e1f7"/><stop offset=".4" stop-color="#a7d8f7"/><stop offset=".54" stop-color="#8cd0f7"/><stop offset=".67" stop-color="#73c9f7"/><stop offset=".78" stop-color="#5bc4f7"/><stop offset=".87" stop-color="#44c0f7"/><stop offset=".935" stop-color="#30bdf7"/><stop offset=".975" stop-color="#1dbbf7"/><stop offset="1" stop-color="#00baf7"/></linearGradient>
<linearGradient id="w159" gradientUnits="userSpaceOnUse" x1="240.6" y1="179.3" x2="186.8" y2="189.2"><stop offset="0" stop-color="#f7f7f7"/><stop offset=".07" stop-color="#e9f2f7"/><stop offset=".16" stop-color="#d7ebf7"/><stop offset=".27" stop-color="#c1e4f7"/><stop offset=".4" stop-color="#a8dcf7"/><stop offset=".54" stop-color="#8ed4f7"/><stop offset=".67" stop-color="#74cef7"/><stop offset=".78" stop-color="#5dc9f7"/><stop offset=".87" stop-color="#46c6f7"/><stop offset=".935" stop-color="#31c3f7"/><stop offset=".975" stop-color="#1ec2f7"/><stop offset="1" stop-color="#00c1f7"/></linearGradient>
<linearGradient id="w160" gradientUnits="userSpaceOnUse" x1="240.6" y1="179.3" x2="186.8" y2="189.2"><stop offset="0" stop-color="#f7f7f7"/><stop offset=".07" stop-color="#e9f3f7"/><stop offset=".16" stop-color="#d8edf7"/><stop offset=".27" stop-color="#c3e6f7"/><stop offset=".4" stop-color="#aae0f7"/><stop offset=".54" stop-color="#90d9f7"/><stop offset=".67" stop-color="#76d3f7"/><stop offset=".78" stop-color="#5ecff7"/><stop offset=".87" stop-color="#47ccf7"/><stop offset=".935" stop-color="#32caf7"/><stop offset=".975" stop-color="#1ec8f7"/><stop offset="1" stop-color="#00c8f7"/></linearGradient>
<linearGradient id="w161" gradientUnits="userSpaceOnUse" x1="240.6" y1="179.3" x2="186.8" y2="189.2"><stop offset="0" stop-color="#f7f7f7"/><stop offset=".07" stop-color="#eaf3f7"/><stop offset=".16" stop-color="#d9eff7"/><stop offset=".27" stop-color="#c4e9f7"/><stop offset=".4" stop-color="#ace3f7"/><stop offset=".54" stop-color="#92def7"/><stop offset=".67" stop-color="#78d9f7"/><stop offset=".78" stop-color="#60d5f7"/><stop offset=".87" stop-color="#48d3f7"/><stop offset=".935" stop-color="#33d1f7"/><stop offset=".975" stop-color="#1fcff7"/><stop offset="1" stop-color="#00cff7"/></linearGradient>
<linearGradient id="w162" gradientUnits="userSpaceOnUse" x1="240.6" y1="179.3" x2="186.8" y2="189.2"><stop offset="0" stop-color="#f7f7f7"/><stop offset=".07" stop-color="#eaf4f7"/><stop offset=".16" stop-color="#daf0f7"/><stop offset=".27" stop-color="#c6ecf7"/><stop offset=".4" stop-color="#aee7f7"/><stop offset=".54" stop-color="#94e3f7"/><stop offset=".67" stop-color="#7adff7"/><stop offset=".78" stop-color="#62dcf7"/><stop offset=".87" stop-color="#4adaf7"/><stop offset=".935" stop-color="#34d8f7"/><stop offset=".975" stop-color="#20d7f7"/><stop offset="1" stop-color="#00d6f7"/></linearGradient>
<linearGradient id="w163" gradientUnits="userSpaceOnUse" x1="240.6" y1="179.3" x2="186.8" y2="189.2"><stop offset="0" stop-color="#f7f7f7"/><stop offset=".07" stop-color="#ebf5f7"/><stop offset=".16" stop-color="#dbf2f7"/><stop offset=".27" stop-color="#c8eff7"/><stop offset=".4" stop-color="#b0ebf7"/><stop offset=".54" stop-color="#96e8f7"/><stop offset=".67" stop-color="#7de5f7"/><stop offset=".78" stop-color="#64e3f7"/><stop offset=".87" stop-color="#4ce1f7"/><stop offset=".935" stop-color="#35e0f7"/><stop offset=".975" stop-color="#21dff7"/><stop offset="1" stop-color="#00def7"/></linearGradient>
<linearGradient id="w164" gradientUnits="userSpaceOnUse" x1="240.6" y1="179.3" x2="186.8" y2="189.2"><stop offset="0" stop-color="#f7f7f7"/><stop offset=".07" stop-color="#ecf6f7"/><stop offset=".16" stop-color="#dcf4f7"/><stop offset=".27" stop-color="#c9f2f7"/><stop offset=".4" stop-color="#b3f0f7"/><stop offset=".54" stop-color="#99edf7"/><stop offset=".67" stop-color="#7febf7"/><stop offset=".78" stop-color="#66eaf7"/><stop offset=".87" stop-color="#4de9f7"/><stop offset=".935" stop-color="#36e8f7"/><stop offset=".975" stop-color="#21e7f7"/><stop offset="1" stop-color="#00e7f7"/></linearGradient>
<linearGradient id="w165" gradientUnits="userSpaceOnUse" x1="240.6" y1="179.3" x2="186.8" y2="189.2"><stop offset="0" stop-color="#f7f7f7"/><stop offset=".07" stop-color="#ecf7f7"/><stop offset=".16" stop-color="#ddf6f7"/><stop offset=".27" stop-color="#cbf5f7"/><stop offset=".4" stop-color="#b5f4f7"/><stop offset=".54" stop-color="#9bf3f7"/><stop offset=".67" stop-color="#81f2f7"/><stop offset=".78" stop-color="#68f1f7"/><stop offset=".87" stop-color="#4ff1f7"/><stop offset=".935" stop-color="#38f0f7"/><stop offset=".975" stop-color="#22f0f7"/><stop offset="1" stop-color="#00f0f7"/></linearGradient>
<linearGradient id="w166" gradientUnits="userSpaceOnUse" x1="240.6" y1="179.3" x2="186.8" y2="189.2"><stop offset="0" stop-color="#f7f7f7"/><stop offset=".07" stop-color="#ecf7f7"/><stop offset=".16" stop-color="#def7f7"/><stop offset=".27" stop-color="#ccf7f7"/><stop offset=".4" stop-color="#b6f7f6"/><stop offset=".54" stop-color="#9df7f6"/><stop offset=".67" stop-color="#83f7f6"/><stop offset=".78" stop-color="#6af7f5"/><stop offset=".87" stop-color="#50f7f5"/><stop offset=".935" stop-color="#39f7f5"/><stop offset=".975" stop-color="#23f7f5"/><stop offset="1" stop-color="#00f7f5"/></linearGradient>
<linearGradient id="w167" gradientUnits="userSpaceOnUse" x1="240.6" y1="179.3" x2="186.8" y2="189.2"><stop offset="0" stop-color="#f7f7f7"/><stop offset=".07" stop-color="#ecf7f6"/><stop offset=".16" stop-color="#def7f5"/><stop offset=".27" stop-color="#ccf7f3"/><stop offset=".4" stop-color="#b5f7f2"/><stop offset=".54" stop-color="#9cf7f0"/><stop offset=".67" stop-color="#82f7ef"/><stop offset=".78" stop-color="#69f7ed"/><stop offset=".87" stop-color="#50f7ed"/><stop offset=".935" stop-color="#38f7ec"/><stop offset=".975" stop-color="#23f7eb"/><stop offset="1" stop-color="#00f7eb"/></linearGradient>
<linearGradient id="w168" gradientUnits="userSpaceOnUse" x1="240.6" y1="179.3" x2="186.8" y2="189.2"><stop offset="0" stop-color="#f7f7f7"/><stop offset=".07" stop-color="#ecf7f5"/><stop offset=".16" stop-color="#ddf7f3"/><stop offset=".27" stop-color="#cbf7f0"/><stop offset=".4" stop-color="#b4f7ed"/><stop offset=".54" stop-color="#9bf7ea"/><stop offset=".67" stop-color="#81f7e8"/><stop offset=".78" stop-color="#68f7e5"/><stop offset=".87" stop-color="#4ff7e4"/><stop offset=".935" stop-color="#37f7e3"/><stop offset=".975" stop-color="#22f7e2"/><stop offset="1" stop-color="#00f7e1"/></linearGradient>
<linearGradient id="w169" gradientUnits="userSpaceOnUse" x1="240.6" y1="179.3" x2="186.8" y2="189.2"><stop offset="0" stop-color="#f7f7f7"/><stop offset=".07" stop-color="#ecf7f4"/><stop offset=".16" stop-color="#ddf7f1"/><stop offset=".27" stop-color="#caf7ed"/><stop offset=".4" stop-color="#b3f7e9"/><stop offset=".54" stop-color="#9af7e4"/><stop offset=".67" stop-color="#80f7e0"/><stop offset=".78" stop-color="#67f7dd"/><stop offset=".87" stop-color="#4ef7db"/><stop offset=".935" stop-color="#37f7d9"/><stop offset=".975" stop-color="#22f7d8"/><stop offset="1" stop-color="#00f7d8"/></linearGradient>
<linearGradient id="w170" gradientUnits="userSpaceOnUse" x1="240.6" y1="179.3" x2="186.8" y2="189.2"><stop offset="0" stop-color="#f7f7f7"/><stop offset=".07" stop-color="#ebf7f4"/><stop offset=".16" stop-color="#dcf7ef"/><stop offset=".27" stop-color="#c9f7ea"/><stop offset=".4" stop-color="#b3f7e4"/><stop offset=".54" stop-color="#99f7df"/><stop offset=".67" stop-color="#7ff7d9"/><stop offset=".78" stop-color="#66f7d5"/><stop offset=".87" stop-color="#4df7d2"/><stop offset=".935" stop-color="#36f7d0"/><stop offset=".975" stop-color="#21f7cf"/><stop offset="1" stop-color="#00f7ce"/></linearGradient>
<linearGradient id="w171" gradientUnits="userSpaceOnUse" x1="240.6" y1="179.3" x2="186.8" y2="189.2"><stop offset="0" stop-color="#f7f7f7"/><stop offset=".07" stop-color="#ebf7f3"/><stop offset=".16" stop-color="#dcf7ed"/><stop offset=".27" stop-color="#c9f7e7"/><stop offset=".4" stop-color="#b2f7e0"/><stop offset=".54" stop-color="#98f7d9"/><stop offset=".67" stop-color="#7ef7d2"/><stop offset=".78" stop-color="#65f7cd"/><stop offset=".87" stop-color="#4df7c9"/><stop offset=".935" stop-color="#36f7c7"/><stop offset=".975" stop-color="#21f7c5"/><stop offset="1" stop-color="#00f7c4"/></linearGradient>
<linearGradient id="w172" gradientUnits="userSpaceOnUse" x1="240.6" y1="179.3" x2="186.8" y2="189.2"><stop offset="0" stop-color="#f7f7f7"/><stop offset=".07" stop-color="#ebf7f2"/><stop offset=".16" stop-color="#dbf7eb"/><stop offset=".27" stop-color="#c8f7e4"/><stop offset=".4" stop-color="#b1f7db"/><stop offset=".54" stop-color="#97f7d3"/><stop offset=".67" stop-color="#7df7cb"/><stop offset=".78" stop-color="#64f7c5"/><stop offset=".87" stop-color="#4cf7c1"/><stop offset=".935" stop-color="#35f7bd"/><stop offset=".975" stop-color="#21f7bb"/><stop offset="1" stop-color="#00f7ba"/></linearGradient>
<linearGradient id="w173" gradientUnits="userSpaceOnUse" x1="240.6" y1="179.3" x2="186.8" y2="189.2"><stop offset="0" stop-color="#f7f7f7"/><stop offset=".07" stop-color="#ebf7f1"/><stop offset=".16" stop-color="#dbf7e9"/><stop offset=".27" stop-color="#c7f7e1"/><stop offset=".4" stop-color="#b0f7d7"/><stop offset=".54" stop-color="#96f7cd"/><stop offset=".67" stop-color="#7cf7c4"/><stop offset=".78" stop-color="#63f7bd"/><stop offset=".87" stop-color="#4bf7b8"/><stop offset=".935" stop-color="#35f7b4"/><stop offset=".975" stop-color="#20f7b1"/><stop offset="1" stop-color="#00f7b0"/></linearGradient>
<linearGradient id="w174" gradientUnits="userSpaceOnUse" x1="240.6" y1="179.3" x2="186.8" y2="189.2"><stop offset="0" stop-color="#f7f7f7"/><stop offset=".07" stop-color="#ebf7f0"/><stop offset=".16" stop-color="#daf7e8"/><stop offset=".27" stop-color="#c6f7de"/><stop offset=".4" stop-color="#aff7d2"/><stop offset=".54" stop-color="#95f7c7"/><stop offset=".67" stop-color="#7bf7bd"/><stop offset=".78" stop-color="#62f7b5"/><stop offset=".87" stop-color="#4af7af"/><stop offset=".935" stop-color="#34f7aa"/><stop offset=".975" stop-color="#20f7a7"/><stop offset="1" stop-color="#00f7a6"/></linearGradient>
<linearGradient id="w175" gradientUnits="userSpaceOnUse" x1="240.6" y1="179.3" x2="186.8" y2="189.2"><stop offset="0" stop-color="#f7f7f7"/><stop offset=".07" stop-color="#eaf7ef"/><stop offset=".16" stop-color="#daf7e6"/><stop offset=".27" stop-color="#c6f7da"/><stop offset=".4" stop-color="#aef7ce"/><stop offset=".54" stop-color="#94f7c1"/><stop offset=".67" stop-color="#7af7b6"/><stop offset=".78" stop-color="#62f7ad"/><stop offset=".87" stop-color="#4af7a5"/><stop offset=".935" stop-color="#34f7a0"/><stop offset=".975" stop-color="#20f79d"/><stop offset="1" stop-color="#00f79b"/></linearGradient>
<linearGradient id="w176" gradientUnits="userSpaceOnUse" x1="240.6" y1="179.3" x2="186.8" y2="189.2"><stop offset="0" stop-color="#f7f7f7"/><stop offset=".07" stop-color="#eaf7ef"/><stop offset=".16" stop-color="#d9f7e4"/><stop offset=".27" stop-color="#c5f7d7"/><stop offset=".4" stop-color="#adf7c9"/><stop offset=".54" stop-color="#93f7bb"/><stop offset=".67" stop-color="#79f7af"/><stop offset=".78" stop-color="#61f7a4"/><stop offset=".87" stop-color="#49f79c"/><stop offset=".935" stop-color="#33f796"/><stop offset=".975" stop-color="#1ff793"/><stop offset="1" stop-color="#00f790"/></linearGradient>
<linearGradient id="w177" gradientUnits="userSpaceOnUse" x1="240.6" y1="179.3" x2="186.8" y2="189.2"><stop offset="0" stop-color="#f7f7f7"/><stop offset=".07" stop-color="#eaf7ee"/><stop offset=".16" stop-color="#d9f7e2"/><stop offset=".27" stop-color="#c4f7d4"/><stop offset=".4" stop-color="#acf7c5"/><stop offset=".54" stop-color="#92f7b5"/><stop offset=".67" stop-color="#78f7a7"/><stop offset=".78" stop-color="#60f79c"/><stop offset=".87" stop-color="#49f792"/><stop offset=".935" stop-color="#33f78c"/><stop offset=".975" stop-color="#1ff788"/><stop offset="1" stop-color="#00f785"/></linearGradient>
<linearGradient id="w178" gradientUnits="userSpaceOnUse" x1="240.6" y1="179.3" x2="186.8" y2="189.2"><stop offset="0" stop-color="#f7f7f7"/><stop offset=".07" stop-color="#eaf7ed"/><stop offset=".16" stop-color="#d8f7e0"/><stop offset=".27" stop-color="#c4f7d1"/><stop offset=".4" stop-color="#acf7c0"/><stop offset=".54" stop-color="#91f7af"/><stop offset=".67" stop-color="#77f7a0"/><stop offset=".78" stop-color="#5ff793"/><stop offset=".87" stop-color="#48f789"/><stop offset=".935" stop-color="#32f781"/><stop offset=".975" stop-color="#1ff77c"/><stop offset="1" stop-color="#00f779"/></linearGradient>
<linearGradient id="w179" gradientUnits="userSpaceOnUse" x1="240.6" y1="179.3" x2="186.8" y2="189.2"><stop offset="0" stop-color="#f7f7f7"/><stop offset=".07" stop-color="#e9f7ec"/><stop offset=".16" stop-color="#d8f7de"/><stop offset=".27" stop-color="#c3f7ce"/><stop offset=".4" stop-color="#abf7bc"/><stop offset=".54" stop-color="#90f7a9"/><stop offset=".67" stop-color="#77f798"/><stop offset=".78" stop-color="#5ff78a"/><stop offset=".87" stop-color="#47f77e"/><stop offset=".935" stop-color="#32f776"/><stop offset=".975" stop-color="#1ff770"/><stop offset="1" stop-color="#00f76d"/></linearGradient>
<linearGradient id="w180" gradientUnits="userSpaceOnUse" x1="240.6" y1="179.3" x2="186.8" y2="189.2"><stop offset="0" stop-color="#f7f7f7"/><stop offset=".07" stop-color="#e9f7eb"/><stop offset=".16" stop-color="#d7f7dc"/><stop offset=".27" stop-color="#c2f7cb"/><stop offset=".4" stop-color="#aaf7b7"/><stop offset=".54" stop-color="#90f7a3"/><stop offset=".67" stop-color="#76f790"/><stop offset=".78" stop-color="#5ef781"/><stop offset=".87" stop-color="#47f773"/><stop offset=".935" stop-color="#31f769"/><stop offset=".975" stop-color="#1ef763"/><stop offset="1" stop-color="#00f75f"/></linearGradient>
<linearGradient id="w181" gradientUnits="userSpaceOnUse" x1="240.6" y1="179.3" x2="186.8" y2="189.2"><stop offset="0" stop-color="#f7f7f7"/><stop offset=".07" stop-color="#e9f7ea"/><stop offset=".16" stop-color="#d7f7da"/><stop offset=".27" stop-color="#c2f7c8"/><stop offset=".4" stop-color="#a9f7b3"/><stop offset=".54" stop-color="#8ff79d"/><stop offset=".67" stop-color="#75f788"/><stop offset=".78" stop-color="#5df777"/><stop offset=".87" stop-color="#46f768"/><stop offset=".935" stop-color="#31f75c"/><stop offset=".975" stop-color="#1ef755"/><stop offset="1" stop-color="#00f750"/></linearGradient>
<linearGradient id="w182" gradientUnits="userSpaceOnUse" x1="240.6" y1="179.3" x2="186.8" y2="189.2"><stop offset="0" stop-color="#f7f7f7"/><stop offset=".07" stop-color="#e9f7e9"/><stop offset=".16" stop-color="#d6f7d8"/><stop offset=".27" stop-color="#c1f7c5"/><stop offset=".4" stop-color="#a8f7ae"/><stop offset=".54" stop-color="#8ef796"/><stop offset=".67" stop-color="#74f780"/><stop offset=".78" stop-color="#5cf76c"/><stop offset=".87" stop-color="#46f75b"/><stop offset=".935" stop-color="#31f74d"/><stop offset=".975" stop-color="#1ef744"/><stop offset="1" stop-color="#00f73d"/></linearGradient>
<linearGradient id="w183" gradientUnits="userSpaceOnUse" x1="240.6" y1="179.3" x2="186.8" y2="189.2"><stop offset="0" stop-color="#f7f7f7"/><stop offset=".07" stop-color="#e8f7e9"/><stop offset=".16" stop-color="#d6f7d7"/><stop offset=".27" stop-color="#c0f7c1"/><stop offset=".4" stop-color="#a8f7a9"/><stop offset=".54" stop-color="#8df790"/><stop offset=".67" stop-color="#73f777"/><stop offset=".78" stop-color="#5cf761"/><stop offset=".87" stop-color="#45f74d"/><stop offset=".935" stop-color="#30f73b"/><stop offset=".975" stop-color="#1ef72e"/><stop offset="1" stop-color="#00f723"/></linearGradient>
</defs>
<rect x="489.2" y="527.2" width="145.6" height="55.6" fill="#c8c8c8"/>
<text x="521" y="561.5" font-size="13.5" fill="#333" fill-opacity=".3" textLength="100" lengthAdjust="spacingAndGlyphs">oLED-Dinfinity/</text>
<g fill="none" stroke="#fff" stroke-width="2"><rect x="495.2" y="541.2" width="32" height="20"/><path d="M511 562v5.5M504.4 567.6h12.9" stroke-width="1.6"/></g>
<text x="501.4" y="554.4" font-size="8.6" font-weight="bold" fill="#fff" letter-spacing="0.6">FPD</text>
<g fill="none" stroke="#fff" stroke-width="3" stroke-linecap="butt"><g transform="translate(534 540)"><path d="M1.5 3.5h14v9h-14z"/><path d="M8.5 0v17"/></g><g transform="translate(553 540)"><path d="M4.8 0l-4 5.5"/><path d="M3 3.5v6"/><path d="M9 0.5v6q0 1 1.5 1h5"/><path d="M15.5 1.5l-6.2 3.2"/><path d="M0 10.8h17"/><path d="M8.5 8.5v8.5"/></g><g transform="translate(572.5 540)"><path d="M3.5 1h10v6.5h-10zM3.5 4.25h10"/><path d="M6.5 8.5v7M10.5 8.5v7"/><path d="M1.3 10l1.7 3.5M15.7 10l-1.7 3.5"/><path d="M0 16h17"/></g><g transform="translate(591.5 540)"><path d="M3 1.5h11"/><path d="M0 6.5h17"/><path d="M8.5 6.5v9.5q0 1-1.8 1"/><path d="M4.5 9.5l-3 4.5"/><path d="M12.5 9.5l3 4.5"/></g><g transform="translate(611.5 540)"><path d="M1.5 17v-15.5h14v14q0 1.5-2 1.5"/><path d="M4 4l3.5 8M7.5 4l-3.5 8"/><path d="M9.3 4l3.5 8M12.8 4l-3.5 8"/></g></g>
<text x="535" y="569.8" font-size="10.4" font-weight="bold" fill="#fff" letter-spacing="2.85">chinafpd.net</text>
<rect x="103.4" y="18.9" width="486.7" height="485.2" fill="#c3c0c3"/>
<g clip-path="url(#pc)"><path d="M281.9 492.6C281.9 492.6 281.8 492.5 281.8 492.6C281.7 492.6 281.7 492.8 281.6 492.8C281.5 492.8 281.5 492.8 281.4 492.8C281.3 492.9 281.2 493 281.1 493C281 493.1 280.9 493 280.8 493C280.6 493 280.5 493 280.3 493C280.1 493 280 493.2 279.7 493.1C279.5 492.9 279.2 492.8 278.7 492.4C278.2 492 277.6 491.5 276.9 490.8C276.2 490.2 275.4 489.4 274.5 488.4C273.5 487.4 272.3 486.1 270.9 484.7C269.6 483.3 268.2 481.6 266.5 479.8C264.8 478 263.1 476.1 260.9 473.8C258.7 471.5 256.3 468.9 253.6 466C250.9 463.1 248 460.1 244.7 456.4C241.4 452.6 237.8 448.6 233.9 443.6C229.9 438.7 225.9 433.8 220.8 426.4C215.8 419 209.8 410 203.5 399.3C197.2 388.6 190.2 376.1 183.1 362.3C176 348.4 168.2 332.1 161 316.1C153.7 300.1 146 282.6 139.6 266.3C133.3 250 127.6 233.1 123 218.4C118.3 203.7 114.5 189.8 111.7 178C108.8 166.3 107 156.5 105.8 148C104.6 139.6 104.3 133 104.4 127.1C104.5 121.3 105.4 116.7 106.6 112.8C107.9 108.9 109.8 106 111.9 103.7C114.1 101.4 116.7 100.1 119.5 99C122.2 98 125.3 97.7 128.4 97.3C131.5 97 134.9 96.9 138.2 96.9C141.5 96.8 144.7 96.9 148.1 97.1C151.5 97.2 154.9 97.4 158.5 97.7C162 98 165.7 98.3 169.6 98.7C173.5 99.1 177.5 99.6 181.7 100.1C186 100.7 190.4 101.3 195 101.9C199.7 102.5 204.6 103.2 209.8 103.9C215 104.7 220.4 105.5 226.1 106.3C231.9 107.1 237.9 108 244.2 109C250.5 109.9 257.1 110.9 264.1 111.9C271 112.9 278.2 114 285.7 115.2C293.2 116.3 301.1 117.5 309.1 118.6C317.1 119.8 325.5 121.1 333.8 122.3C342.2 123.6 350.9 124.9 359.2 126.1C367.5 127.4 375.7 128.6 383.8 129.8C391.9 131 400.2 132.2 407.8 133.4C415.4 134.5 422.7 135.6 429.5 136.6C436.3 137.6 442.7 138.6 448.7 139.5C454.6 140.3 460 141.2 465 141.9C470 142.7 474.4 143.3 478.6 143.9C482.8 144.6 486.6 145.1 490.2 145.7C493.8 146.2 497.1 146.7 500.2 147.2C503.2 147.6 506.1 148 508.6 148.4C511.2 148.8 513.4 149.1 515.4 149.4C517.5 149.7 518.7 149.9 520.7 150.2C522.8 150.5 525.7 151 528 151.3C530.2 151.6 532.8 152 534.2 152.2C535.7 152.4 536.3 152.5 536.7 152.6Z" fill="none" stroke="#f6f6f6" stroke-width="1.6" stroke-linejoin="round"/></g>
<g shape-rendering="crispEdges"><path d="M240.6 179.3L170.9 102.5L175.9 103.2z" fill="url(#w0)"/><path d="M240.6 179.3L175.9 103.2L180.9 103.8z" fill="url(#w1)"/><path d="M240.6 179.3L180.9 103.8L185.9 104.5z" fill="url(#w2)"/><path d="M240.6 179.3L185.9 104.5L190.8 105.1z" fill="url(#w3)"/><path d="M240.6 179.3L190.8 105.1L195.8 105.8z" fill="url(#w4)"/><path d="M240.6 179.3L195.8 105.8L200.8 106.5z" fill="url(#w5)"/><path d="M240.6 179.3L200.8 106.5L205.8 107.1z" fill="url(#w6)"/><path d="M240.6 179.3L205.8 107.1L210.8 107.8z" fill="url(#w7)"/><path d="M240.6 179.3L210.8 107.8L215.8 108.4z" fill="url(#w8)"/><path d="M240.6 179.3L215.8 108.4L220.7 109.1z" fill="url(#w9)"/><path d="M240.6 179.3L220.7 109.1L225.7 109.7z" fill="url(#w10)"/><path d="M240.6 179.3L225.7 109.7L230.7 110.4z" fill="url(#w11)"/><path d="M240.6 179.3L230.7 110.4L235.7 111.1z" fill="url(#w12)"/><path d="M240.6 179.3L235.7 111.1L240.7 111.7z" fill="url(#w13)"/><path d="M240.6 179.3L240.7 111.7L245.7 112.4z" fill="url(#w14)"/><path d="M240.6 179.3L245.7 112.4L250.6 113z" fill="url(#w15)"/><path d="M240.6 179.3L250.6 113L255.6 113.7z" fill="url(#w16)"/><path d="M240.6 179.3L255.6 113.7L260.6 114.4z" fill="url(#w17)"/><path d="M240.6 179.3L260.6 114.4L265.6 115z" fill="url(#w18)"/><path d="M240.6 179.3L265.6 115L270.6 115.7z" fill="url(#w19)"/><path d="M240.6 179.3L270.6 115.7L275.6 116.3z" fill="url(#w20)"/><path d="M240.6 179.3L275.6 116.3L280.5 117z" fill="url(#w21)"/><path d="M240.6 179.3L280.5 117L285.5 117.7z" fill="url(#w22)"/><path d="M240.6 179.3L285.5 117.7L290.5 118.3z" fill="url(#w23)"/><path d="M240.6 179.3L290.5 118.3L295.5 119z" fill="url(#w24)"/><path d="M240.6 179.3L295.5 119L300.5 119.6z" fill="url(#w25)"/><path d="M240.6 179.3L300.5 119.6L305.5 120.3z" fill="url(#w26)"/><path d="M240.6 179.3L305.5 120.3L310.5 121z" fill="url(#w27)"/><path d="M240.6 179.3L310.5 121L315.4 121.6z" fill="url(#w28)"/><path d="M240.6 179.3L315.4 121.6L320.4 122.3z" fill="url(#w29)"/><path d="M240.6 179.3L320.4 122.3L325.4 122.9z" fill="url(#w30)"/><path d="M240.6 179.3L325.4 122.9L330.4 123.6z" fill="url(#w31)"/><path d="M240.6 179.3L330.4 123.6L335.4 124.2z" fill="url(#w32)"/><path d="M240.6 179.3L335.4 124.2L340.4 124.9z" fill="url(#w33)"/><path d="M240.6 179.3L340.4 124.9L345.3 125.6z" fill="url(#w34)"/><path d="M240.6 179.3L345.3 125.6L350.3 126.2z" fill="url(#w35)"/><path d="M240.6 179.3L350.3 126.2L355.3 126.9z" fill="url(#w36)"/><path d="M240.6 179.3L355.3 126.9L360.3 127.5z" fill="url(#w37)"/><path d="M240.6 179.3L360.3 127.5L365.3 128.2z" fill="url(#w38)"/><path d="M240.6 179.3L365.3 128.2L370.3 128.9z" fill="url(#w39)"/><path d="M240.6 179.3L370.3 128.9L375.2 129.5z" fill="url(#w40)"/><path d="M240.6 179.3L375.2 129.5L380.2 130.2z" fill="url(#w41)"/><path d="M240.6 179.3L380.2 130.2L385.2 130.8z" fill="url(#w42)"/><path d="M240.6 179.3L385.2 130.8L390.2 131.5z" fill="url(#w43)"/><path d="M240.6 179.3L390.2 131.5L395.2 132.2z" fill="url(#w44)"/><path d="M240.6 179.3L395.2 132.2L400.2 132.8z" fill="url(#w45)"/><path d="M240.6 179.3L400.2 132.8L405.1 133.5z" fill="url(#w46)"/><path d="M240.6 179.3L405.1 133.5L410.1 134.1z" fill="url(#w47)"/><path d="M240.6 179.3L410.1 134.1L415.1 134.8z" fill="url(#w48)"/><path d="M240.6 179.3L415.1 134.8L420.1 135.4z" fill="url(#w49)"/><path d="M240.6 179.3L420.1 135.4L425.1 136.1z" fill="url(#w50)"/><path d="M240.6 179.3L425.1 136.1L430.1 136.8z" fill="url(#w51)"/><path d="M240.6 179.3L430.1 136.8L435 137.4z" fill="url(#w52)"/><path d="M240.6 179.3L435 137.4L440 138.1z" fill="url(#w53)"/><path d="M240.6 179.3L440 138.1L445 138.7z" fill="url(#w54)"/><path d="M240.6 179.3L445 138.7L450 139.4z" fill="url(#w55)"/><path d="M240.6 179.3L450 139.4L446.7 143.2z" fill="url(#w56)"/><path d="M240.6 179.3L446.7 143.2L443.4 147z" fill="url(#w57)"/><path d="M240.6 179.3L443.4 147L440.1 150.8z" fill="url(#w58)"/><path d="M240.6 179.3L440.1 150.8L436.8 154.6z" fill="url(#w59)"/><path d="M240.6 179.3L436.8 154.6L433.5 158.4z" fill="url(#w60)"/><path d="M240.6 179.3L433.5 158.4L430.1 162.2z" fill="url(#w61)"/><path d="M240.6 179.3L430.1 162.2L426.8 165.9z" fill="url(#w62)"/><path d="M240.6 179.3L426.8 165.9L423.5 169.7z" fill="url(#w63)"/><path d="M240.6 179.3L423.5 169.7L420.2 173.5z" fill="url(#w64)"/><path d="M240.6 179.3L420.2 173.5L416.9 177.3z" fill="url(#w65)"/><path d="M240.6 179.3L416.9 177.3L413.6 181.1z" fill="url(#w66)"/><path d="M240.6 179.3L413.6 181.1L410.3 184.9z" fill="url(#w67)"/><path d="M240.6 179.3L410.3 184.9L407 188.7z" fill="url(#w68)"/><path d="M240.6 179.3L407 188.7L403.7 192.5z" fill="url(#w69)"/><path d="M240.6 179.3L403.7 192.5L400.4 196.3z" fill="url(#w70)"/><path d="M240.6 179.3L400.4 196.3L397.1 200.1z" fill="url(#w71)"/><path d="M240.6 179.3L397.1 200.1L393.8 203.9z" fill="url(#w72)"/><path d="M240.6 179.3L393.8 203.9L390.4 207.7z" fill="url(#w73)"/><path d="M240.6 179.3L390.4 207.7L387.1 211.5z" fill="url(#w74)"/><path d="M240.6 179.3L387.1 211.5L383.8 215.3z" fill="url(#w75)"/><path d="M240.6 179.3L383.8 215.3L380.5 219z" fill="url(#w76)"/><path d="M240.6 179.3L380.5 219L377.2 222.8z" fill="url(#w77)"/><path d="M240.6 179.3L377.2 222.8L373.9 226.6z" fill="url(#w78)"/><path d="M240.6 179.3L373.9 226.6L370.6 230.4z" fill="url(#w79)"/><path d="M240.6 179.3L370.6 230.4L367.3 234.2z" fill="url(#w80)"/><path d="M240.6 179.3L367.3 234.2L364 238z" fill="url(#w81)"/><path d="M240.6 179.3L364 238L360.7 241.8z" fill="url(#w82)"/><path d="M240.6 179.3L360.7 241.8L357.4 245.6z" fill="url(#w83)"/><path d="M240.6 179.3L357.4 245.6L354 249.4z" fill="url(#w84)"/><path d="M240.6 179.3L354 249.4L350.7 253.2z" fill="url(#w85)"/><path d="M240.6 179.3L350.7 253.2L347.4 257z" fill="url(#w86)"/><path d="M240.6 179.3L347.4 257L344.1 260.8z" fill="url(#w87)"/><path d="M240.6 179.3L344.1 260.8L340.8 264.6z" fill="url(#w88)"/><path d="M240.6 179.3L340.8 264.6L337.5 268.4z" fill="url(#w89)"/><path d="M240.6 179.3L337.5 268.4L334.2 272.1z" fill="url(#w90)"/><path d="M240.6 179.3L334.2 272.1L330.9 275.9z" fill="url(#w91)"/><path d="M240.6 179.3L330.9 275.9L327.6 279.7z" fill="url(#w92)"/><path d="M240.6 179.3L327.6 279.7L324.3 283.5z" fill="url(#w93)"/><path d="M240.6 179.3L324.3 283.5L321 287.3z" fill="url(#w94)"/><path d="M240.6 179.3L321 287.3L317.6 291.1z" fill="url(#w95)"/><path d="M240.6 179.3L317.6 291.1L314.3 294.9z" fill="url(#w96)"/><path d="M240.6 179.3L314.3 294.9L311 298.7z" fill="url(#w97)"/><path d="M240.6 179.3L311 298.7L307.7 302.5z" fill="url(#w98)"/><path d="M240.6 179.3L307.7 302.5L304.4 306.3z" fill="url(#w99)"/><path d="M240.6 179.3L304.4 306.3L301.1 310.1z" fill="url(#w100)"/><path d="M240.6 179.3L301.1 310.1L297.8 313.9z" fill="url(#w101)"/><path d="M240.6 179.3L297.8 313.9L294.5 317.7z" fill="url(#w102)"/><path d="M240.6 179.3L294.5 317.7L291.2 321.4z" fill="url(#w103)"/><path d="M240.6 179.3L291.2 321.4L287.9 325.2z" fill="url(#w104)"/><path d="M240.6 179.3L287.9 325.2L284.6 329z" fill="url(#w105)"/><path d="M240.6 179.3L284.6 329L281.2 332.8z" fill="url(#w106)"/><path d="M240.6 179.3L281.2 332.8L277.9 336.6z" fill="url(#w107)"/><path d="M240.6 179.3L277.9 336.6L274.6 340.4z" fill="url(#w108)"/><path d="M240.6 179.3L274.6 340.4L271.3 344.2z" fill="url(#w109)"/><path d="M240.6 179.3L271.3 344.2L268 348z" fill="url(#w110)"/><path d="M240.6 179.3L268 348L264.7 351.8z" fill="url(#w111)"/><path d="M240.6 179.3L264.7 351.8L261.4 355.6z" fill="url(#w112)"/><path d="M240.6 179.3L261.4 355.6L258.1 359.4z" fill="url(#w113)"/><path d="M240.6 179.3L258.1 359.4L254.8 363.2z" fill="url(#w114)"/><path d="M240.6 179.3L254.8 363.2L251.5 367z" fill="url(#w115)"/><path d="M240.6 179.3L251.5 367L248.2 370.8z" fill="url(#w116)"/><path d="M240.6 179.3L248.2 370.8L244.9 374.5z" fill="url(#w117)"/><path d="M240.6 179.3L244.9 374.5L241.5 378.3z" fill="url(#w118)"/><path d="M240.6 179.3L241.5 378.3L238.2 382.1z" fill="url(#w119)"/><path d="M240.6 179.3L238.2 382.1L234.9 385.9z" fill="url(#w120)"/><path d="M240.6 179.3L234.9 385.9L231.6 389.7z" fill="url(#w121)"/><path d="M240.6 179.3L231.6 389.7L228.3 393.5z" fill="url(#w122)"/><path d="M240.6 179.3L228.3 393.5L225 397.3z" fill="url(#w123)"/><path d="M240.6 179.3L225 397.3L224.1 392.4z" fill="url(#w124)"/><path d="M240.6 179.3L224.1 392.4L223.2 387.5z" fill="url(#w125)"/><path d="M240.6 179.3L223.2 387.5L222.3 382.6z" fill="url(#w126)"/><path d="M240.6 179.3L222.3 382.6L221.4 377.6z" fill="url(#w127)"/><path d="M240.6 179.3L221.4 377.6L220.5 372.7z" fill="url(#w128)"/><path d="M240.6 179.3L220.5 372.7L219.6 367.8z" fill="url(#w129)"/><path d="M240.6 179.3L219.6 367.8L218.7 362.9z" fill="url(#w130)"/><path d="M240.6 179.3L218.7 362.9L217.8 358z" fill="url(#w131)"/><path d="M240.6 179.3L217.8 358L216.9 353.1z" fill="url(#w132)"/><path d="M240.6 179.3L216.9 353.1L216 348.2z" fill="url(#w133)"/><path d="M240.6 179.3L216 348.2L215.1 343.3z" fill="url(#w134)"/><path d="M240.6 179.3L215.1 343.3L214.2 338.3z" fill="url(#w135)"/><path d="M240.6 179.3L214.2 338.3L213.3 333.4z" fill="url(#w136)"/><path d="M240.6 179.3L213.3 333.4L212.4 328.5z" fill="url(#w137)"/><path d="M240.6 179.3L212.4 328.5L211.5 323.6z" fill="url(#w138)"/><path d="M240.6 179.3L211.5 323.6L210.6 318.7z" fill="url(#w139)"/><path d="M240.6 179.3L210.6 318.7L209.7 313.8z" fill="url(#w140)"/><path d="M240.6 179.3L209.7 313.8L208.8 308.9z" fill="url(#w141)"/><path d="M240.6 179.3L208.8 308.9L207.9 303.9z" fill="url(#w142)"/><path d="M240.6 179.3L207.9 303.9L207 299z" fill="url(#w143)"/><path d="M240.6 179.3L207 299L206.1 294.1z" fill="url(#w144)"/><path d="M240.6 179.3L206.1 294.1L205.2 289.2z" fill="url(#w145)"/><path d="M240.6 179.3L205.2 289.2L204.3 284.3z" fill="url(#w146)"/><path d="M240.6 179.3L204.3 284.3L203.4 279.4z" fill="url(#w147)"/><path d="M240.6 179.3L203.4 279.4L202.5 274.5z" fill="url(#w148)"/><path d="M240.6 179.3L202.5 274.5L201.6 269.6z" fill="url(#w149)"/><path d="M240.6 179.3L201.6 269.6L200.7 264.6z" fill="url(#w150)"/><path d="M240.6 179.3L200.7 264.6L199.8 259.7z" fill="url(#w151)"/><path d="M240.6 179.3L199.8 259.7L198.9 254.8z" fill="url(#w152)"/><path d="M240.6 179.3L198.9 254.8L197.9 249.9z" fill="url(#w153)"/><path d="M240.6 179.3L197.9 249.9L197 245z" fill="url(#w154)"/><path d="M240.6 179.3L197 245L196.1 240.1z" fill="url(#w155)"/><path d="M240.6 179.3L196.1 240.1L195.2 235.2z" fill="url(#w156)"/><path d="M240.6 179.3L195.2 235.2L194.3 230.2z" fill="url(#w157)"/><path d="M240.6 179.3L194.3 230.2L193.4 225.3z" fill="url(#w158)"/><path d="M240.6 179.3L193.4 225.3L192.5 220.4z" fill="url(#w159)"/><path d="M240.6 179.3L192.5 220.4L191.6 215.5z" fill="url(#w160)"/><path d="M240.6 179.3L191.6 215.5L190.7 210.6z" fill="url(#w161)"/><path d="M240.6 179.3L190.7 210.6L189.8 205.7z" fill="url(#w162)"/><path d="M240.6 179.3L189.8 205.7L188.9 200.8z" fill="url(#w163)"/><path d="M240.6 179.3L188.9 200.8L188 195.9z" fill="url(#w164)"/><path d="M240.6 179.3L188 195.9L187.1 190.9z" fill="url(#w165)"/><path d="M240.6 179.3L187.1 190.9L186.2 186z" fill="url(#w166)"/><path d="M240.6 179.3L186.2 186L185.3 181.1z" fill="url(#w167)"/><path d="M240.6 179.3L185.3 181.1L184.4 176.2z" fill="url(#w168)"/><path d="M240.6 179.3L184.4 176.2L183.5 171.3z" fill="url(#w169)"/><path d="M240.6 179.3L183.5 171.3L182.6 166.4z" fill="url(#w170)"/><path d="M240.6 179.3L182.6 166.4L181.7 161.5z" fill="url(#w171)"/><path d="M240.6 179.3L181.7 161.5L180.8 156.5z" fill="url(#w172)"/><path d="M240.6 179.3L180.8 156.5L179.9 151.6z" fill="url(#w173)"/><path d="M240.6 179.3L179.9 151.6L179 146.7z" fill="url(#w174)"/><path d="M240.6 179.3L179 146.7L178.1 141.8z" fill="url(#w175)"/><path d="M240.6 179.3L178.1 141.8L177.2 136.9z" fill="url(#w176)"/><path d="M240.6 179.3L177.2 136.9L176.3 132z" fill="url(#w177)"/><path d="M240.6 179.3L176.3 132L175.4 127.1z" fill="url(#w178)"/><path d="M240.6 179.3L175.4 127.1L174.5 122.2z" fill="url(#w179)"/><path d="M240.6 179.3L174.5 122.2L173.6 117.2z" fill="url(#w180)"/><path d="M240.6 179.3L173.6 117.2L172.7 112.3z" fill="url(#w181)"/><path d="M240.6 179.3L172.7 112.3L171.8 107.4z" fill="url(#w182)"/><path d="M240.6 179.3L171.8 107.4L170.9 102.5z" fill="url(#w183)"/></g>
<path d="M238.6 177.1L225.2 162.3M240.8 176.3L241.6 165.6M243.3 178L264.5 167.3M243.5 178.7L290 169.9M243.5 179.9L275 186M242.6 181.5L260.8 201.6M241.3 182.2L249.1 215.9M240.4 182.3L236.9 230.8M239.7 182.2L232.8 205M237.7 179.9L230.1 181.3" stroke="#a8a8a8" stroke-opacity="0.5" stroke-width="1" fill="none"/>
<path d="M221.2 157.9L207.8 143.1M242 159.6L242.8 148.8M269.9 164.6L291.1 153.9M295.9 168.8L342.4 159.9M280.8 187.2L312.3 193.3M264.9 206L283.1 226.1M250.5 221.7L258.3 255.4M236.5 236.8L233 285.3M231.1 210.7L224.1 233.5M224.2 182.5L216.7 184" stroke="#a8a8a8" stroke-opacity="0.36" stroke-width="1" fill="none"/>
<path d="M203.7 138.7L190.3 123.9M243.3 142.8L244.1 132.1M296.5 151.2L317.7 140.5M348.2 158.8L394.7 149.9M318.1 194.4L349.5 200.6M287.1 230.6L305.4 250.6M259.6 261.3L267.4 294.9M232.6 291.3L229.1 339.8M222.4 239.2L215.5 262M210.8 185.1L203.3 186.6" stroke="#a8a8a8" stroke-opacity="0.24" stroke-width="1" fill="none"/>
<path d="M186.3 119.5L172.6 104.4M244.5 126.1L245.3 114.9M323.1 137.8L344.8 126.9M400.6 148.8L447.5 139.9M355.4 201.7L387.3 207.9M309.4 255.1L327.9 275.5M268.8 300.8L276.7 334.9M228.7 345.8L225.2 394.8M213.7 267.8L206.7 291M197.4 187.7L189.4 189.3" stroke="#a8a8a8" stroke-opacity="0.14" stroke-width="1" fill="none"/>
<path d="M226.1 160.5L238.9 162.2M244.8 163L264.2 165.5M270.2 166.3L290 168.9M291 171.6L279.9 184.3M275.9 188.8L264.8 201.6M260.9 206.1L251.7 216.6M247.8 221.1L238.7 231.5M236.2 230.8L232.5 210.8M231.4 204.9L227.7 184.9M226.6 179L223.7 163.1M208.7 141.3L240.1 145.4M246 146.2L290.8 152.1M296.8 152.9L342.3 159M343.3 161.6L317.2 191.6M313.2 196.1L287.1 226.1M283.1 230.6L260.9 256.1M257 260.6L234.8 286M232.3 285.3L223.8 239.3M222.7 233.4L214.3 187.5M213.2 181.6L206.3 143.9M191.3 122.1L241.3 128.7M247.3 129.5L317.4 138.8M323.4 139.6L394.7 149M395.7 151.6L354.5 198.9M350.5 203.4L309.3 250.6M305.4 255.1L270.1 295.6M266.1 300.1L230.9 340.5M228.4 339.8L215.1 267.8M214.1 261.9L200.9 190.1M199.8 184.2L188.9 124.7" stroke="#000" stroke-opacity=".5" stroke-width="1.3" fill="none"/>
<path d="M170.9 102.5L450 139.4L225 397.3z" stroke="#000" stroke-opacity=".78" stroke-width="1.8" fill="none" stroke-linejoin="round"/>
<circle cx="223.2" cy="160.1" r="2.65" fill="#a0a0a0" fill-opacity=".5" stroke="#2a2a2a" stroke-opacity=".75" stroke-width="1.3"/>
<circle cx="241.8" cy="162.6" r="2.65" fill="#a0a0a0" fill-opacity=".5" stroke="#2a2a2a" stroke-opacity=".75" stroke-width="1.3"/>
<circle cx="267.2" cy="165.9" r="2.65" fill="#a0a0a0" fill-opacity=".5" stroke="#2a2a2a" stroke-opacity=".75" stroke-width="1.3"/>
<circle cx="292.9" cy="169.3" r="2.65" fill="#a0a0a0" fill-opacity=".5" stroke="#2a2a2a" stroke-opacity=".75" stroke-width="1.3"/>
<circle cx="277.9" cy="186.6" r="2.65" fill="#a0a0a0" fill-opacity=".5" stroke="#2a2a2a" stroke-opacity=".75" stroke-width="1.3"/>
<circle cx="262.9" cy="203.8" r="2.65" fill="#a0a0a0" fill-opacity=".5" stroke="#2a2a2a" stroke-opacity=".75" stroke-width="1.3"/>
<circle cx="249.8" cy="218.8" r="2.65" fill="#a0a0a0" fill-opacity=".5" stroke="#2a2a2a" stroke-opacity=".75" stroke-width="1.3"/>
<circle cx="236.7" cy="233.8" r="2.65" fill="#a0a0a0" fill-opacity=".5" stroke="#2a2a2a" stroke-opacity=".75" stroke-width="1.3"/>
<circle cx="231.9" cy="207.8" r="2.65" fill="#a0a0a0" fill-opacity=".5" stroke="#2a2a2a" stroke-opacity=".75" stroke-width="1.3"/>
<circle cx="227.2" cy="181.9" r="2.65" fill="#a0a0a0" fill-opacity=".5" stroke="#2a2a2a" stroke-opacity=".75" stroke-width="1.3"/>
<circle cx="205.8" cy="140.9" r="2.65" fill="#a0a0a0" fill-opacity=".5" stroke="#2a2a2a" stroke-opacity=".75" stroke-width="1.3"/>
<circle cx="243.1" cy="145.8" r="2.65" fill="#a0a0a0" fill-opacity=".5" stroke="#2a2a2a" stroke-opacity=".75" stroke-width="1.3"/>
<circle cx="293.8" cy="152.5" r="2.65" fill="#a0a0a0" fill-opacity=".5" stroke="#2a2a2a" stroke-opacity=".75" stroke-width="1.3"/>
<circle cx="345.3" cy="159.4" r="2.65" fill="#a0a0a0" fill-opacity=".5" stroke="#2a2a2a" stroke-opacity=".75" stroke-width="1.3"/>
<circle cx="315.2" cy="193.9" r="2.65" fill="#a0a0a0" fill-opacity=".5" stroke="#2a2a2a" stroke-opacity=".75" stroke-width="1.3"/>
<circle cx="285.1" cy="228.3" r="2.65" fill="#a0a0a0" fill-opacity=".5" stroke="#2a2a2a" stroke-opacity=".75" stroke-width="1.3"/>
<circle cx="258.9" cy="258.3" r="2.65" fill="#a0a0a0" fill-opacity=".5" stroke="#2a2a2a" stroke-opacity=".75" stroke-width="1.3"/>
<circle cx="232.8" cy="288.3" r="2.65" fill="#a0a0a0" fill-opacity=".5" stroke="#2a2a2a" stroke-opacity=".75" stroke-width="1.3"/>
<circle cx="223.3" cy="236.4" r="2.65" fill="#a0a0a0" fill-opacity=".5" stroke="#2a2a2a" stroke-opacity=".75" stroke-width="1.3"/>
<circle cx="213.8" cy="184.5" r="2.65" fill="#a0a0a0" fill-opacity=".5" stroke="#2a2a2a" stroke-opacity=".75" stroke-width="1.3"/>
<circle cx="188.3" cy="121.7" r="2.65" fill="#a0a0a0" fill-opacity=".5" stroke="#2a2a2a" stroke-opacity=".75" stroke-width="1.3"/>
<circle cx="244.3" cy="129.1" r="2.65" fill="#a0a0a0" fill-opacity=".5" stroke="#2a2a2a" stroke-opacity=".75" stroke-width="1.3"/>
<circle cx="320.4" cy="139.2" r="2.65" fill="#a0a0a0" fill-opacity=".5" stroke="#2a2a2a" stroke-opacity=".75" stroke-width="1.3"/>
<circle cx="397.6" cy="149.4" r="2.65" fill="#a0a0a0" fill-opacity=".5" stroke="#2a2a2a" stroke-opacity=".75" stroke-width="1.3"/>
<circle cx="352.5" cy="201.1" r="2.65" fill="#a0a0a0" fill-opacity=".5" stroke="#2a2a2a" stroke-opacity=".75" stroke-width="1.3"/>
<circle cx="307.4" cy="252.9" r="2.65" fill="#a0a0a0" fill-opacity=".5" stroke="#2a2a2a" stroke-opacity=".75" stroke-width="1.3"/>
<circle cx="268.1" cy="297.8" r="2.65" fill="#a0a0a0" fill-opacity=".5" stroke="#2a2a2a" stroke-opacity=".75" stroke-width="1.3"/>
<circle cx="228.9" cy="342.8" r="2.65" fill="#a0a0a0" fill-opacity=".5" stroke="#2a2a2a" stroke-opacity=".75" stroke-width="1.3"/>
<circle cx="214.6" cy="264.9" r="2.65" fill="#a0a0a0" fill-opacity=".5" stroke="#2a2a2a" stroke-opacity=".75" stroke-width="1.3"/>
<circle cx="200.3" cy="187.2" r="2.65" fill="#a0a0a0" fill-opacity=".5" stroke="#2a2a2a" stroke-opacity=".75" stroke-width="1.3"/>
<circle cx="170.9" cy="102.5" r="2.8" fill="#000"/>
<circle cx="245.5" cy="112.4" r="2.8" fill="#000"/>
<circle cx="347" cy="125.8" r="2.8" fill="#000"/>
<circle cx="450" cy="139.4" r="2.8" fill="#000"/>
<circle cx="389.8" cy="208.4" r="2.8" fill="#000"/>
<circle cx="329.6" cy="277.4" r="2.8" fill="#000"/>
<circle cx="277.3" cy="337.4" r="2.8" fill="#000"/>
<circle cx="225" cy="397.3" r="2.8" fill="#000"/>
<circle cx="205.9" cy="293.4" r="2.8" fill="#000"/>
<circle cx="186.9" cy="189.8" r="2.8" fill="#000"/>
<circle cx="240.6" cy="179.3" r="2.9" fill="#fff" stroke="#333" stroke-opacity=".75" stroke-width="1.1"/>
<path d="M103.4 18.9H590.1V504.1H103.4ZM96.5 504.1H103.4M103.4 504.1V510.8M96.5 434.7H103.4M172.9 504.1V510.8M96.5 365.3H103.4M242.4 504.1V510.8M96.5 295.9H103.4M311.9 504.1V510.8M96.5 226.5H103.4M381.4 504.1V510.8M96.5 157.1H103.4M450.9 504.1V510.8M96.5 87.7H103.4M520.4 504.1V510.8M96.5 18.3H103.4M589.9 504.1V510.8" stroke="#7c7c7c" stroke-width="1.4" fill="none"/>
<g font-size="18.5" fill="#222" stroke="#222" stroke-width=".3"><text x="87.8" y="510.3" text-anchor="end">0.000</text><text x="103.4" y="538.6" text-anchor="middle">0.000</text><text x="87.8" y="440.9" text-anchor="end">0.100</text><text x="172.9" y="538.6" text-anchor="middle">0.100</text><text x="87.8" y="371.5" text-anchor="end">0.200</text><text x="242.4" y="538.6" text-anchor="middle">0.200</text><text x="87.8" y="302.1" text-anchor="end">0.300</text><text x="311.9" y="538.6" text-anchor="middle">0.300</text><text x="87.8" y="232.7" text-anchor="end">0.400</text><text x="381.4" y="538.6" text-anchor="middle">0.400</text><text x="87.8" y="163.3" text-anchor="end">0.500</text><text x="450.9" y="538.6" text-anchor="middle">0.500</text><text x="87.8" y="93.9" text-anchor="end">0.600</text><text x="520.4" y="538.6" text-anchor="middle">0.600</text><text x="87.8" y="24.5" text-anchor="end">0.700</text><text x="589.9" y="538.6" text-anchor="middle">0.700</text></g>
<text x="347.2" y="570.8" font-size="17" font-weight="bold" fill="#111" text-anchor="middle">u&#8217;</text>
<text transform="translate(27.4 261.5) rotate(-90)" font-size="17.5" font-weight="bold" fill="#111" text-anchor="middle">v&#8217;</text>
<g font-size="14" fill="#222" stroke="#222" stroke-width=".25" text-anchor="middle"><text x="343.3" y="38.4">CIE 1976 Uniform Chromaticity Diagram</text><text x="343.6" y="57.5">DCI-P3 Standard Color Gamut</text><text x="339.6" y="77">41 Reference Colors</text></g>
<g font-size="11" fill="#1a1a1a" stroke="#1a1a1a" stroke-width=".35"><text x="395.6" y="388.3">3 JNCD</text><text x="395.6" y="404.5">1 JNCD</text></g>
<path d="M437.3 385h8" stroke="#222" stroke-width=".9"/><path d="M441.3 382.7l.9 1.4 1.6 .9-1.6 .9-.9 1.4-.9-1.4-1.6-.9 1.6-.9z" fill="#111"/><path d="M451 385h8" stroke="#222" stroke-width=".9"/><path d="M455 382.7l.9 1.4 1.6 .9-1.6 .9-.9 1.4-.9-1.4-1.6-.9 1.6-.9z" fill="#111"/><path d="M437.3 400.6h8" stroke="#222" stroke-width=".9"/><path d="M441.3 398.3l.9 1.4 1.6 .9-1.6 .9-.9 1.4-.9-1.4-1.6-.9 1.6-.9z" fill="#111"/><path d="M445.4 400.6h8" stroke="#222" stroke-width=".9"/><path d="M449.4 398.3l.9 1.4 1.6 .9-1.6 .9-.9 1.4-.9-1.4-1.6-.9 1.6-.9z" fill="#111"/>
<circle cx="386" cy="422.5" r="3.5" fill="#fff" stroke="#555" stroke-width="1.3"/>
<circle cx="385.8" cy="448.4" r="3.5" fill="#a2a2a2" stroke="#6a6a6a" stroke-width="1.5"/>
<circle cx="386" cy="473.4" r="4.1" fill="#0a0a0a"/>
<g font-size="12.1" fill="#1a1a1a" stroke="#1a1a1a" stroke-width=".4"><text x="397.5" y="426.8">White Point</text><text x="397" y="452.6">25% 50% 75% Saturated Colors</text><text x="397" y="477.6">100% Saturated Colors</text></g>
<g fill="#2a2a2a"><circle cx="490.1" cy="579.3" r="4.3" fill="none" stroke="#2a2a2a" stroke-width="1.7"/><path d="M492 577.6a2.2 2.2 0 1 0 0 3.4" fill="none" stroke="#2a2a2a" stroke-width="1.3"/><text x="497" y="583" font-size="11.4" font-weight="bold">DisplayMate Technologies</text></g>
</svg>
</body></html>
